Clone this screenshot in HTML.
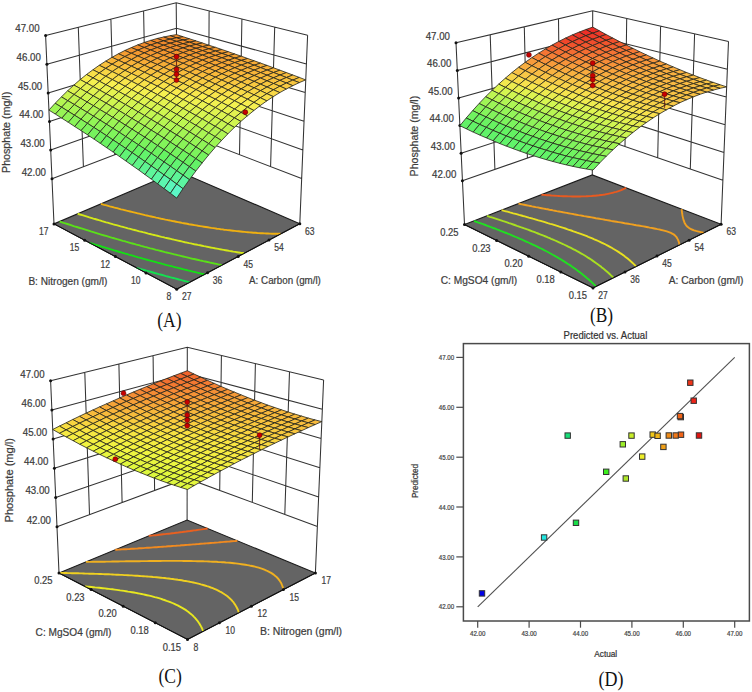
<!DOCTYPE html>
<html><head><meta charset="utf-8"><style>html,body{margin:0;padding:0;background:#fff;}svg{display:block;}</style></head>
<body><svg width="752" height="692" viewBox="0 0 752 692">
<rect width="752" height="692" fill="#fff"/>
<path d="M45.6,35.6 L176.2,2.7 L307.6,35.2 M52,178.8 L177.4,130.7 L301.6,178.6 M50.7,150.1 L177.2,105.1 L302.8,149.9 M49.5,121.5 L176.9,79.5 L304,121.2 M48.2,92.9 L176.7,53.9 L305.2,92.6 M46.9,64.2 L176.5,28.3 L306.4,63.9 M83.4,166.8 L78.3,27.3 M270.6,166.6 L274.7,27.1 M114.7,154.7 L110.9,19.1 M239.5,154.6 L241.9,19 M146.1,142.7 L143.6,10.9 M208.5,142.6 L209.1,10.8 M54,223.9 L45.6,35.6 M177.8,171 L176.2,2.7 M299.8,223.7 L307.6,35.2" fill="none" stroke="#333333" stroke-width="1.05"/>
<polygon points="176.7,289.2 299.8,223.7 177.8,171 54,223.9" fill="#646464" stroke="#1a1a1a" stroke-width="1.1"/>
<polyline points="189.7,282.3 188.1,281.8 186.4,281.4 184.6,281 182.3,280.4 180.7,279.9 179,279.5 177.2,279 175,278.4 173.3,278 171.7,277.6 169.8,277.1 167.6,276.5 166,276.1 164.4,275.6 162.3,275 160.3,274.5 158.7,274.1 157.1,273.6 154.7,273 153,272.5 151.4,272 149.5,271.5 147.4,270.9 145.8,270.5 144.1,270 141.8,269.3 140.1,268.8 138.5,268.4 136.6,267.8 136.6,267.8" fill="none" stroke="#14e050" stroke-width="1.9"/>
<polyline points="204.6,274.4 202.9,274 201.2,273.6 199.3,273.1 197.1,272.6 195.4,272.2 193.8,271.8 192.1,271.4 189.9,270.8 188,270.4 186.3,270 184.7,269.6 182.7,269.1 180.5,268.5 178.9,268.1 177.2,267.7 175.5,267.3 173.1,266.7 171.5,266.2 169.9,265.8 168.1,265.4 165.8,264.8 164.1,264.3 162.5,263.9 160.7,263.4 158.4,262.8 156.8,262.4 155.2,261.9 153.2,261.4 151.1,260.8 149.5,260.4 147.9,260 145.6,259.3 143.8,258.8 142.2,258.4 140.5,257.9 138.2,257.3 136.6,256.8 135,256.4 132.7,255.7 130.9,255.2 129.3,254.8 127.5,254.2 125.3,253.6 123.7,253.1 122.1,252.7 119.7,252 118.1,251.5 116.5,251 114.2,250.4 112.6,249.9 111,249.4 108.8,248.7 107,248.2 105.4,247.7 103.4,247.1 101.4,246.5 99.9,246 97.9,245.4 95.9,244.8 94.3,244.3 92.4,243.7 90.4,243.1 89.6,242.8" fill="none" stroke="#14e014" stroke-width="1.9"/>
<polyline points="222,265.1 220.3,264.7 218.5,264.4 216.3,263.9 214.3,263.5 212.6,263.1 210.9,262.8 209.2,262.4 207.5,262 205.2,261.5 203.3,261.1 201.6,260.7 200,260.4 198.3,260 196.2,259.5 194.1,259 192.4,258.7 190.7,258.3 189.1,257.9 187,257.4 184.9,256.9 183.2,256.5 181.6,256.1 179.9,255.7 177.6,255.2 175.8,254.7 174.1,254.3 172.5,253.9 170.5,253.4 168.3,252.9 166.7,252.5 165,252.1 163.3,251.6 160.9,251 159.3,250.6 157.6,250.2 156,249.8 153.6,249.1 151.9,248.7 150.3,248.3 148.5,247.8 146.2,247.2 144.6,246.8 143,246.3 141,245.8 138.9,245.2 137.3,244.8 135.7,244.4 133.4,243.7 131.6,243.3 130,242.8 128.3,242.3 126,241.7 124.4,241.2 122.8,240.8 120.5,240.1 118.8,239.6 117.2,239.2 115.2,238.6 113.2,238 111.6,237.6 109.9,237.1 107.6,236.4 106,235.9 104.4,235.5 102,234.8 100.4,234.3 98.8,233.8 96.5,233.1 94.9,232.6 93.3,232.1 90.9,231.4 89.4,230.9 87.8,230.4 85.4,229.7 83.8,229.2 82.3,228.7 79.9,228 78.3,227.5 76.8,227 74.4,226.3 72.9,225.8 71.1,225.2 69,224.5 67.4,224 65.3,223.3 63.5,222.8 62,222.3 59.6,221.5 59.6,221.5" fill="none" stroke="#5ae018" stroke-width="1.9"/>
<polyline points="244.1,253.3 242.3,253 240.5,252.8 238.7,252.5 236.9,252.2 235.2,251.9 233.3,251.6 231.3,251.2 229.3,250.9 227.2,250.5 225.5,250.2 223.7,249.9 222,249.6 220.2,249.3 218.5,248.9 216.7,248.6 214.9,248.3 212.8,247.9 210.7,247.5 208.9,247.1 207.2,246.8 205.5,246.4 203.8,246.1 202,245.7 200.1,245.3 197.9,244.9 196,244.5 194.3,244.2 192.6,243.8 190.9,243.4 189.2,243.1 187,242.6 185,242.2 183.3,241.8 181.6,241.4 179.9,241 178,240.6 175.8,240.1 174,239.7 172.4,239.3 170.7,238.9 168.9,238.5 166.6,238 164.8,237.6 163.2,237.2 161.5,236.8 159.6,236.3 157.4,235.8 155.7,235.4 154.1,235 152.4,234.6 150,234 148.3,233.6 146.6,233.1 145,232.7 142.8,232.2 140.9,231.7 139.3,231.3 137.6,230.8 135.4,230.2 133.6,229.8 131.9,229.3 130.3,228.9 127.9,228.3 126.3,227.8 124.6,227.4 122.8,226.9 120.6,226.3 119,225.8 117.4,225.4 115.1,224.8 113.3,224.3 111.7,223.8 109.8,223.3 107.7,222.7 106.1,222.3 104.5,221.8 102.1,221.1 100.6,220.6 99,220.2 96.6,219.5 95,219 93.4,218.6 91.1,217.9 89.4,217.4 87.9,216.9 85.5,216.2 83.9,215.7 82.3,215.2 80,214.5 78.4,214 77.6,213.8" fill="none" stroke="#d4e818" stroke-width="1.9"/>
<polyline points="280.7,233.8 279.3,233.8 277.4,233.8 275.2,233.8 273.7,233.7 272,233.7 269.9,233.6 267.9,233.5 266.5,233.5 264.6,233.4 262.5,233.3 260.5,233.2 259,233.1 257.4,233 255.4,232.8 253.4,232.7 251.4,232.5 249.5,232.4 247.9,232.2 246.3,232.1 244.5,231.9 242.5,231.7 240.6,231.5 238.6,231.3 236.7,231.1 234.8,230.9 233,230.7 231.2,230.5 229.5,230.3 227.7,230.1 226,229.9 224.2,229.7 222.4,229.4 220.6,229.2 218.8,228.9 216.9,228.7 215.1,228.4 213.3,228.1 211.4,227.9 209.6,227.6 207.8,227.3 205.9,227 204,226.7 202,226.4 200.1,226.1 198.2,225.8 196.2,225.4 194.3,225.1 192.5,224.8 190.7,224.5 189,224.2 187.2,223.8 185.4,223.5 183.7,223.2 181.9,222.9 180.2,222.5 178.1,222.1 176,221.7 174.1,221.3 172.4,221 170.6,220.6 168.9,220.3 167.2,219.9 165.4,219.6 163.3,219.1 161.2,218.7 159.5,218.3 157.8,217.9 156.1,217.6 154.4,217.2 152.2,216.7 150.2,216.3 148.5,215.9 146.8,215.5 145.1,215.1 143.2,214.6 141,214.1 139.3,213.7 137.6,213.3 136,212.9 133.8,212.4 131.8,211.9 130.2,211.5 128.5,211.1 126.6,210.7 124.4,210.1 122.8,209.7 121.1,209.3 119.3,208.8 117.1,208.2 115.4,207.8 113.8,207.4 111.8,206.8 109.7,206.3 108.1,205.8 106.5,205.4 104.2,204.8 102.5,204.3 100.9,203.9 100.9,203.9" fill="none" stroke="#f0b010" stroke-width="1.9"/>
<polyline points="54,223.9 176.7,289.2 299.8,223.7" fill="none" stroke="#111" stroke-width="1"/>
<circle cx="52" cy="178.8" r="1.5" fill="#111"/><circle cx="50.7" cy="150.1" r="1.5" fill="#111"/><circle cx="49.5" cy="121.5" r="1.5" fill="#111"/><circle cx="48.2" cy="92.9" r="1.5" fill="#111"/><circle cx="46.9" cy="64.2" r="1.5" fill="#111"/><circle cx="45.6" cy="35.6" r="1.5" fill="#111"/><circle cx="176.7" cy="289.2" r="1.5" fill="#111"/><circle cx="146" cy="272.9" r="1.5" fill="#111"/><circle cx="115.4" cy="256.5" r="1.5" fill="#111"/><circle cx="84.7" cy="240.2" r="1.5" fill="#111"/><circle cx="54" cy="223.9" r="1.5" fill="#111"/><circle cx="207.5" cy="272.8" r="1.5" fill="#111"/><circle cx="238.2" cy="256.4" r="1.5" fill="#111"/><circle cx="269" cy="240.1" r="1.5" fill="#111"/><circle cx="299.8" cy="223.7" r="1.5" fill="#111"/>
<g stroke="#24241a" stroke-width="0.8" stroke-linejoin="round"><polygon points="176.5,37.8 183,36.7 176.5,34.6 170.1,35.7" fill="#f28c2c"/><polygon points="170.1,39.2 176.5,37.8 170.1,35.7 163.6,37" fill="#f1892b"/><polygon points="183,40 189.5,38.8 183,36.7 176.5,37.8" fill="#f28e2c"/><polygon points="163.6,40.9 170.1,39.2 163.6,37 157.1,38.5" fill="#f1872a"/><polygon points="176.5,41.4 183,40 176.5,37.8 170.1,39.2" fill="#f28b2b"/><polygon points="189.5,42.2 196,40.9 189.5,38.8 183,40" fill="#f2902d"/><polygon points="157.1,42.8 163.6,40.9 157.1,38.5 150.6,40.4" fill="#f1872a"/><polygon points="170.1,43.2 176.5,41.4 170.1,39.2 163.6,40.9" fill="#f1892b"/><polygon points="183,43.7 189.5,42.2 183,40 176.5,41.4" fill="#f28d2c"/><polygon points="196,44.4 202.4,43 196,40.9 189.5,42.2" fill="#f3922d"/><polygon points="150.7,45 157.1,42.8 150.6,40.4 144.2,42.5" fill="#f1872a"/><polygon points="163.6,45.2 170.1,43.2 163.6,40.9 157.1,42.8" fill="#f1892b"/><polygon points="176.6,45.5 183,43.7 176.5,41.4 170.1,43.2" fill="#f28b2b"/><polygon points="189.5,46 196,44.4 189.5,42.2 183,43.7" fill="#f28f2c"/><polygon points="202.5,46.6 208.9,45.2 202.4,43 196,44.4" fill="#f3952e"/><polygon points="144.2,47.5 150.7,45 144.2,42.5 137.7,44.9" fill="#f18a2b"/><polygon points="157.2,47.5 163.6,45.2 157.1,42.8 150.7,45" fill="#f18a2b"/><polygon points="170.1,47.6 176.6,45.5 170.1,43.2 163.6,45.2" fill="#f28b2b"/><polygon points="183,47.9 189.5,46 183,43.7 176.6,45.5" fill="#f28e2c"/><polygon points="196,48.3 202.5,46.6 196,44.4 189.5,46" fill="#f3922d"/><polygon points="208.9,48.8 215.4,47.3 208.9,45.2 202.5,46.6" fill="#f3972f"/><polygon points="137.8,50.2 144.2,47.5 137.7,44.9 131.3,47.6" fill="#f28e2c"/><polygon points="150.7,50 157.2,47.5 150.7,45 144.2,47.5" fill="#f28d2c"/><polygon points="163.6,50 170.1,47.6 163.6,45.2 157.2,47.5" fill="#f28d2c"/><polygon points="176.6,50.1 183,47.9 176.6,45.5 170.1,47.6" fill="#f28e2c"/><polygon points="189.5,50.3 196,48.3 189.5,46 183,47.9" fill="#f2912d"/><polygon points="202.5,50.6 208.9,48.8 202.5,46.6 196,48.3" fill="#f3942e"/><polygon points="215.4,51.1 221.9,49.5 215.4,47.3 208.9,48.8" fill="#f49a30"/><polygon points="131.3,53.3 137.8,50.2 131.3,47.6 124.8,50.5" fill="#f3942e"/><polygon points="144.3,52.9 150.7,50 144.2,47.5 137.8,50.2" fill="#f3922d"/><polygon points="157.2,52.7 163.6,50 157.2,47.5 150.7,50" fill="#f2912d"/><polygon points="170.1,52.5 176.6,50.1 170.1,47.6 163.6,50" fill="#f2902d"/><polygon points="183.1,52.6 189.5,50.3 183,47.9 176.6,50.1" fill="#f3922d"/><polygon points="196,52.7 202.5,50.6 196,48.3 189.5,50.3" fill="#f3942e"/><polygon points="208.9,53 215.4,51.1 208.9,48.8 202.5,50.6" fill="#f4972f"/><polygon points="221.9,53.4 228.3,51.7 221.9,49.5 215.4,51.1" fill="#f49c31"/><polygon points="124.9,56.6 131.3,53.3 124.8,50.5 118.4,53.8" fill="#f59d31"/><polygon points="137.8,56 144.3,52.9 137.8,50.2 131.3,53.3" fill="#f49930"/><polygon points="150.7,55.6 157.2,52.7 150.7,50 144.3,52.9" fill="#f3962f"/><polygon points="163.7,55.3 170.1,52.5 163.6,50 157.2,52.7" fill="#f3952e"/><polygon points="176.6,55.1 183.1,52.6 176.6,50.1 170.1,52.5" fill="#f3942e"/><polygon points="189.5,55.1 196,52.7 189.5,50.3 183.1,52.6" fill="#f3952e"/><polygon points="202.5,55.1 208.9,53 202.5,50.6 196,52.7" fill="#f4972f"/><polygon points="215.4,55.4 221.9,53.4 215.4,51.1 208.9,53" fill="#f49a30"/><polygon points="228.3,55.7 234.8,54 228.3,51.7 221.9,53.4" fill="#f59f32"/><polygon points="118.5,60.3 124.9,56.6 118.4,53.8 112,57.3" fill="#f6a835"/><polygon points="131.4,59.5 137.8,56 131.3,53.3 124.9,56.6" fill="#f5a233"/><polygon points="144.3,58.8 150.7,55.6 144.3,52.9 137.8,56" fill="#f59e31"/><polygon points="157.2,58.3 163.7,55.3 157.2,52.7 150.7,55.6" fill="#f49b30"/><polygon points="170.1,57.9 176.6,55.1 170.1,52.5 163.7,55.3" fill="#f49930"/><polygon points="183.1,57.7 189.5,55.1 183.1,52.6 176.6,55.1" fill="#f4982f"/><polygon points="196,57.6 202.5,55.1 196,52.7 189.5,55.1" fill="#f49930"/><polygon points="208.9,57.6 215.4,55.4 208.9,53 202.5,55.1" fill="#f49b30"/><polygon points="221.9,57.8 228.3,55.7 221.9,53.4 215.4,55.4" fill="#f59e31"/><polygon points="234.8,58.1 241.3,56.2 234.8,54 228.3,55.7" fill="#f5a233"/><polygon points="112.1,64.2 118.5,60.3 112,57.3 105.6,61.2" fill="#f8b439"/><polygon points="125,63.2 131.4,59.5 124.9,56.6 118.5,60.3" fill="#f7ad36"/><polygon points="137.9,62.4 144.3,58.8 137.8,56 131.4,59.5" fill="#f6a734"/><polygon points="150.8,61.7 157.2,58.3 150.7,55.6 144.3,58.8" fill="#f5a333"/><polygon points="163.7,61.1 170.1,57.9 163.7,55.3 157.2,58.3" fill="#f59f32"/><polygon points="176.6,60.6 183.1,57.7 176.6,55.1 170.1,57.9" fill="#f59d31"/><polygon points="189.5,60.3 196,57.6 189.5,55.1 183.1,57.7" fill="#f49c31"/><polygon points="202.5,60.1 208.9,57.6 202.5,55.1 196,57.6" fill="#f49d31"/><polygon points="215.4,60.1 221.9,57.8 215.4,55.4 208.9,57.6" fill="#f59e31"/><polygon points="228.3,60.2 234.8,58.1 228.3,55.7 221.9,57.8" fill="#f5a132"/><polygon points="241.3,60.4 247.7,58.5 241.3,56.2 234.8,58.1" fill="#f6a534"/><polygon points="105.7,68.4 112.1,64.2 105.6,61.2 99.2,65.3" fill="#f8c13d"/><polygon points="118.6,67.3 125,63.2 118.5,60.3 112.1,64.2" fill="#f8b93b"/><polygon points="131.4,66.2 137.9,62.4 131.4,59.5 125,63.2" fill="#f8b238"/><polygon points="144.3,65.3 150.8,61.7 144.3,58.8 137.9,62.4" fill="#f7ac36"/><polygon points="157.3,64.5 163.7,61.1 157.2,58.3 150.8,61.7" fill="#f6a835"/><polygon points="170.2,63.8 176.6,60.6 170.1,57.9 163.7,61.1" fill="#f6a433"/><polygon points="183.1,63.3 189.5,60.3 183.1,57.7 176.6,60.6" fill="#f5a233"/><polygon points="196,63 202.5,60.1 196,57.6 189.5,60.3" fill="#f5a032"/><polygon points="208.9,62.7 215.4,60.1 208.9,57.6 202.5,60.1" fill="#f5a032"/><polygon points="221.9,62.6 228.3,60.2 221.9,57.8 215.4,60.1" fill="#f5a233"/><polygon points="234.8,62.6 241.3,60.4 234.8,58.1 228.3,60.2" fill="#f6a433"/><polygon points="247.7,62.8 254.2,60.8 247.7,58.5 241.3,60.4" fill="#f6a835"/><polygon points="99.3,73 105.7,68.4 99.2,65.3 92.9,69.8" fill="#f8d043"/><polygon points="112.2,71.6 118.6,67.3 112.1,64.2 105.7,68.4" fill="#f8c73f"/><polygon points="125,70.4 131.4,66.2 125,63.2 118.6,67.3" fill="#f8bf3c"/><polygon points="137.9,69.2 144.3,65.3 137.9,62.4 131.4,66.2" fill="#f8b83a"/><polygon points="150.8,68.2 157.3,64.5 150.8,61.7 144.3,65.3" fill="#f8b238"/><polygon points="163.7,67.4 170.2,63.8 163.7,61.1 157.3,64.5" fill="#f7ad36"/><polygon points="176.6,66.6 183.1,63.3 176.6,60.6 170.2,63.8" fill="#f6a935"/><polygon points="189.6,66.1 196,63 189.5,60.3 183.1,63.3" fill="#f6a634"/><polygon points="202.5,65.6 208.9,62.7 202.5,60.1 196,63" fill="#f6a534"/><polygon points="215.4,65.3 221.9,62.6 215.4,60.1 208.9,62.7" fill="#f6a433"/><polygon points="228.3,65.1 234.8,62.6 228.3,60.2 221.9,62.6" fill="#f6a534"/><polygon points="241.3,65.1 247.7,62.8 241.3,60.4 234.8,62.6" fill="#f6a835"/><polygon points="254.2,65.2 260.6,63.1 254.2,60.8 247.7,62.8" fill="#f7ab36"/><polygon points="93,77.9 99.3,73 92.9,69.8 86.5,74.5" fill="#f8df49"/><polygon points="105.8,76.3 112.2,71.6 105.7,68.4 99.3,73" fill="#f8d645"/><polygon points="118.7,74.8 125,70.4 118.6,67.3 112.2,71.6" fill="#f8cd41"/><polygon points="131.5,73.5 137.9,69.2 131.4,66.2 125,70.4" fill="#f8c43e"/><polygon points="144.4,72.3 150.8,68.2 144.3,65.3 137.9,69.2" fill="#f8bd3c"/><polygon points="157.3,71.2 163.7,67.4 157.3,64.5 150.8,68.2" fill="#f8b73a"/><polygon points="170.2,70.3 176.6,66.6 170.2,63.8 163.7,67.4" fill="#f8b238"/><polygon points="183.1,69.5 189.6,66.1 183.1,63.3 176.6,66.6" fill="#f7ae37"/><polygon points="196,68.8 202.5,65.6 196,63 189.6,66.1" fill="#f7ab36"/><polygon points="208.9,68.3 215.4,65.3 208.9,62.7 202.5,65.6" fill="#f6a935"/><polygon points="221.9,67.9 228.3,65.1 221.9,62.6 215.4,65.3" fill="#f6a835"/><polygon points="234.8,67.7 241.3,65.1 234.8,62.6 228.3,65.1" fill="#f7a935"/><polygon points="247.7,67.6 254.2,65.2 247.7,62.8 241.3,65.1" fill="#f7ab36"/><polygon points="260.6,67.6 267.1,65.4 260.6,63.1 254.2,65.2" fill="#f7ae37"/><polygon points="86.7,83.1 93,77.9 86.5,74.5 80.2,79.6" fill="#f8ee4f"/><polygon points="99.5,81.3 105.8,76.3 99.3,73 93,77.9" fill="#f8e44b"/><polygon points="112.3,79.6 118.7,74.8 112.2,71.6 105.8,76.3" fill="#f8db47"/><polygon points="125.1,78 131.5,73.5 125,70.4 118.7,74.8" fill="#f8d344"/><polygon points="138,76.6 144.4,72.3 137.9,69.2 131.5,73.5" fill="#f8ca40"/><polygon points="150.9,75.3 157.3,71.2 150.8,68.2 144.4,72.3" fill="#f8c23e"/><polygon points="163.8,74.2 170.2,70.3 163.7,67.4 157.3,71.2" fill="#f8bc3c"/><polygon points="176.7,73.2 183.1,69.5 176.6,66.6 170.2,70.3" fill="#f8b73a"/><polygon points="189.6,72.3 196,68.8 189.6,66.1 183.1,69.5" fill="#f8b338"/><polygon points="202.5,71.6 208.9,68.3 202.5,65.6 196,68.8" fill="#f8af37"/><polygon points="215.4,71 221.9,67.9 215.4,65.3 208.9,68.3" fill="#f7ad36"/><polygon points="228.3,70.6 234.8,67.7 228.3,65.1 221.9,67.9" fill="#f7ad36"/><polygon points="241.2,70.3 247.7,67.6 241.3,65.1 234.8,67.7" fill="#f7ad36"/><polygon points="254.2,70.1 260.6,67.6 254.2,65.2 247.7,67.6" fill="#f7af37"/><polygon points="267.1,70.1 273.5,67.8 267.1,65.4 260.6,67.6" fill="#f8b238"/><polygon points="80.4,88.6 86.7,83.1 80.2,79.6 73.9,85.1" fill="#ebf250"/><polygon points="93.1,86.6 99.5,81.3 93,77.9 86.7,83.1" fill="#f4f050"/><polygon points="105.9,84.7 112.3,79.6 105.8,76.3 99.5,81.3" fill="#f8ea4d"/><polygon points="118.7,82.9 125.1,78 118.7,74.8 112.3,79.6" fill="#f8e049"/><polygon points="131.6,81.3 138,76.6 131.5,73.5 125.1,78" fill="#f8d846"/><polygon points="144.4,79.8 150.9,75.3 144.4,72.3 138,76.6" fill="#f8d043"/><polygon points="157.3,78.4 163.8,74.2 157.3,71.2 150.9,75.3" fill="#f8c840"/><polygon points="170.2,77.2 176.7,73.2 170.2,70.3 163.8,74.2" fill="#f8c13d"/><polygon points="183.1,76.1 189.6,72.3 183.1,69.5 176.7,73.2" fill="#f8bc3b"/><polygon points="196,75.2 202.5,71.6 196,68.8 189.6,72.3" fill="#f8b73a"/><polygon points="208.9,74.4 215.4,71 208.9,68.3 202.5,71.6" fill="#f8b439"/><polygon points="221.9,73.8 228.3,70.6 221.9,67.9 215.4,71" fill="#f8b238"/><polygon points="234.8,73.2 241.2,70.3 234.8,67.7 228.3,70.6" fill="#f8b138"/><polygon points="247.7,72.9 254.2,70.1 247.7,67.6 241.2,70.3" fill="#f8b138"/><polygon points="260.6,72.6 267.1,70.1 260.6,67.6 254.2,70.1" fill="#f8b338"/><polygon points="273.5,72.5 280,70.2 273.5,67.8 267.1,70.1" fill="#f8b539"/><polygon points="74.1,94.5 80.4,88.6 73.9,85.1 67.6,90.8" fill="#dbf350"/><polygon points="86.8,92.2 93.1,86.6 86.7,83.1 80.4,88.6" fill="#e5f250"/><polygon points="99.6,90.1 105.9,84.7 99.5,81.3 93.1,86.6" fill="#eff150"/><polygon points="112.4,88.1 118.7,82.9 112.3,79.6 105.9,84.7" fill="#f8ef50"/><polygon points="125.2,86.3 131.6,81.3 125.1,78 118.7,82.9" fill="#f8e64c"/><polygon points="138,84.6 144.4,79.8 138,76.6 131.6,81.3" fill="#f8dd48"/><polygon points="150.9,83 157.3,78.4 150.9,75.3 144.4,79.8" fill="#f8d645"/><polygon points="163.8,81.6 170.2,77.2 163.8,74.2 157.3,78.4" fill="#f8ce42"/><polygon points="176.7,80.3 183.1,76.1 176.7,73.2 170.2,77.2" fill="#f8c73f"/><polygon points="189.6,79.1 196,75.2 189.6,72.3 183.1,76.1" fill="#f8c13d"/><polygon points="202.5,78.1 208.9,74.4 202.5,71.6 196,75.2" fill="#f8bc3c"/><polygon points="215.4,77.2 221.9,73.8 215.4,71 208.9,74.4" fill="#f8b93a"/><polygon points="228.3,76.5 234.8,73.2 228.3,70.6 221.9,73.8" fill="#f8b63a"/><polygon points="241.2,75.9 247.7,72.9 241.2,70.3 234.8,73.2" fill="#f8b539"/><polygon points="254.1,75.5 260.6,72.6 254.2,70.1 247.7,72.9" fill="#f8b539"/><polygon points="267.1,75.2 273.5,72.5 267.1,70.1 260.6,72.6" fill="#f8b63a"/><polygon points="280,75 286.4,72.6 280,70.2 273.5,72.5" fill="#f8b93a"/><polygon points="67.8,100.7 74.1,94.5 67.6,90.8 61.4,96.9" fill="#c9f550"/><polygon points="80.5,98.2 86.8,92.2 80.4,88.6 74.1,94.5" fill="#d5f450"/><polygon points="93.3,95.9 99.6,90.1 93.1,86.6 86.8,92.2" fill="#e0f350"/><polygon points="106.1,93.7 112.4,88.1 105.9,84.7 99.6,90.1" fill="#eaf250"/><polygon points="118.8,91.6 125.2,86.3 118.7,82.9 112.4,88.1" fill="#f4f050"/><polygon points="131.7,89.7 138,84.6 131.6,81.3 125.2,86.3" fill="#f8eb4e"/><polygon points="144.5,87.9 150.9,83 144.4,79.8 138,84.6" fill="#f8e24a"/><polygon points="157.4,86.2 163.8,81.6 157.3,78.4 150.9,83" fill="#f8da47"/><polygon points="170.2,84.7 176.7,80.3 170.2,77.2 163.8,81.6" fill="#f8d344"/><polygon points="183.1,83.4 189.6,79.1 183.1,76.1 176.7,80.3" fill="#f8cc41"/><polygon points="196,82.1 202.5,78.1 196,75.2 189.6,79.1" fill="#f8c63f"/><polygon points="208.9,81 215.4,77.2 208.9,74.4 202.5,78.1" fill="#f8c13d"/><polygon points="221.8,80.1 228.3,76.5 221.9,73.8 215.4,77.2" fill="#f8be3c"/><polygon points="234.8,79.3 241.2,75.9 234.8,73.2 228.3,76.5" fill="#f8bb3b"/><polygon points="247.7,78.7 254.1,75.5 247.7,72.9 241.2,75.9" fill="#f8ba3b"/><polygon points="260.6,78.1 267.1,75.2 260.6,72.6 254.1,75.5" fill="#f8b93b"/><polygon points="273.5,77.8 280,75 273.5,72.5 267.1,75.2" fill="#f8ba3b"/><polygon points="286.4,77.5 292.9,75 286.4,72.6 280,75" fill="#f8bc3c"/><polygon points="61.6,107.2 67.8,100.7 61.4,96.9 55.1,103.3" fill="#b4f552"/><polygon points="74.3,104.5 80.5,98.2 74.1,94.5 67.8,100.7" fill="#c3f551"/><polygon points="87,102 93.3,95.9 86.8,92.2 80.5,98.2" fill="#d0f550"/><polygon points="99.7,99.5 106.1,93.7 99.6,90.1 93.3,95.9" fill="#dbf350"/><polygon points="112.5,97.2 118.8,91.6 112.4,88.1 106.1,93.7" fill="#e5f250"/><polygon points="125.3,95.1 131.7,89.7 125.2,86.3 118.8,91.6" fill="#eff150"/><polygon points="138.1,93.1 144.5,87.9 138,84.6 131.7,89.7" fill="#f8f050"/><polygon points="151,91.2 157.4,86.2 150.9,83 144.5,87.9" fill="#f8e84c"/><polygon points="163.8,89.5 170.2,84.7 163.8,81.6 157.4,86.2" fill="#f8e049"/><polygon points="176.7,87.9 183.1,83.4 176.7,80.3 170.2,84.7" fill="#f8d846"/><polygon points="189.6,86.5 196,82.1 189.6,79.1 183.1,83.4" fill="#f8d243"/><polygon points="202.5,85.2 208.9,81 202.5,78.1 196,82.1" fill="#f8cc41"/><polygon points="215.4,84 221.8,80.1 215.4,77.2 208.9,81" fill="#f8c63f"/><polygon points="228.3,83 234.8,79.3 228.3,76.5 221.8,80.1" fill="#f8c23e"/><polygon points="241.2,82.1 247.7,78.7 241.2,75.9 234.8,79.3" fill="#f8c03d"/><polygon points="254.1,81.4 260.6,78.1 254.1,75.5 247.7,78.7" fill="#f8be3c"/><polygon points="267,80.8 273.5,77.8 267.1,75.2 260.6,78.1" fill="#f8bd3c"/><polygon points="279.9,80.4 286.4,77.5 280,75 273.5,77.8" fill="#f8be3c"/><polygon points="292.8,80.1 299.3,77.4 292.9,75 286.4,77.5" fill="#f8c03d"/><polygon points="55.4,114.1 61.6,107.2 55.1,103.3 48.9,110.1" fill="#9ef554"/><polygon points="68,111.2 74.3,104.5 67.8,100.7 61.6,107.2" fill="#adf553"/><polygon points="80.7,108.4 87,102 80.5,98.2 74.3,104.5" fill="#bcf552"/><polygon points="93.4,105.7 99.7,99.5 93.3,95.9 87,102" fill="#caf550"/><polygon points="106.2,103.2 112.5,97.2 106.1,93.7 99.7,99.5" fill="#d5f450"/><polygon points="119,100.9 125.3,95.1 118.8,91.6 112.5,97.2" fill="#e0f350"/><polygon points="131.7,98.6 138.1,93.1 131.7,89.7 125.3,95.1" fill="#eaf250"/><polygon points="144.6,96.5 151,91.2 144.5,87.9 138.1,93.1" fill="#f3f150"/><polygon points="157.4,94.6 163.8,89.5 157.4,86.2 151,91.2" fill="#f8ed4f"/><polygon points="170.3,92.8 176.7,87.9 170.2,84.7 163.8,89.5" fill="#f8e54b"/><polygon points="183.1,91.1 189.6,86.5 183.1,83.4 176.7,87.9" fill="#f8dd48"/><polygon points="196,89.6 202.5,85.2 196,82.1 189.6,86.5" fill="#f8d745"/><polygon points="208.9,88.2 215.4,84 208.9,81 202.5,85.2" fill="#f8d143"/><polygon points="221.8,87 228.3,83 221.8,80.1 215.4,84" fill="#f8cc41"/><polygon points="234.7,85.9 241.2,82.1 234.8,79.3 228.3,83" fill="#f8c740"/><polygon points="247.6,85 254.1,81.4 247.7,78.7 241.2,82.1" fill="#f8c43e"/><polygon points="260.5,84.2 267,80.8 260.6,78.1 254.1,81.4" fill="#f8c23e"/><polygon points="273.5,83.5 279.9,80.4 273.5,77.8 267,80.8" fill="#f8c23e"/><polygon points="286.4,83 292.8,80.1 286.4,77.5 279.9,80.4" fill="#f8c23e"/><polygon points="299.3,82.6 305.7,79.9 299.3,77.4 292.8,80.1" fill="#f8c33e"/><polygon points="61.8,118.2 68,111.2 61.6,107.2 55.4,114.1" fill="#97f555"/><polygon points="74.5,115.2 80.7,108.4 74.3,104.5 68,111.2" fill="#a7f553"/><polygon points="87.2,112.3 93.4,105.7 87,102 80.7,108.4" fill="#b6f552"/><polygon points="99.9,109.6 106.2,103.2 99.7,99.5 93.4,105.7" fill="#c3f551"/><polygon points="112.6,107 119,100.9 112.5,97.2 106.2,103.2" fill="#d0f550"/><polygon points="125.4,104.5 131.7,98.6 125.3,95.1 119,100.9" fill="#dbf350"/><polygon points="138.2,102.2 144.6,96.5 138.1,93.1 131.7,98.6" fill="#e5f250"/><polygon points="151,100 157.4,94.6 151,91.2 144.6,96.5" fill="#eef150"/><polygon points="163.8,98 170.3,92.8 163.8,89.5 157.4,94.6" fill="#f6f050"/><polygon points="176.7,96.1 183.1,91.1 176.7,87.9 170.3,92.8" fill="#f8ea4d"/><polygon points="189.6,94.4 196,89.6 189.6,86.5 183.1,91.1" fill="#f8e24a"/><polygon points="202.4,92.8 208.9,88.2 202.5,85.2 196,89.6" fill="#f8dc47"/><polygon points="215.3,91.3 221.8,87 215.4,84 208.9,88.2" fill="#f8d645"/><polygon points="228.2,90 234.7,85.9 228.3,83 221.8,87" fill="#f8d143"/><polygon points="241.2,88.9 247.6,85 241.2,82.1 234.7,85.9" fill="#f8cd41"/><polygon points="254.1,87.8 260.5,84.2 254.1,81.4 247.6,85" fill="#f8c940"/><polygon points="267,87 273.5,83.5 267,80.8 260.5,84.2" fill="#f8c73f"/><polygon points="279.9,86.2 286.4,83 279.9,80.4 273.5,83.5" fill="#f8c63f"/><polygon points="292.8,85.7 299.3,82.6 292.8,80.1 286.4,83" fill="#f8c63f"/><polygon points="68.3,122.3 74.5,115.2 68,111.2 61.8,118.2" fill="#90f556"/><polygon points="80.9,119.2 87.2,112.3 80.7,108.4 74.5,115.2" fill="#a0f554"/><polygon points="93.6,116.2 99.9,109.6 93.4,105.7 87.2,112.3" fill="#aff553"/><polygon points="106.3,113.4 112.6,107 106.2,103.2 99.9,109.6" fill="#bdf551"/><polygon points="119.1,110.7 125.4,104.5 119,100.9 112.6,107" fill="#caf550"/><polygon points="131.8,108.2 138.2,102.2 131.7,98.6 125.4,104.5" fill="#d5f450"/><polygon points="144.6,105.8 151,100 144.6,96.5 138.2,102.2" fill="#dff350"/><polygon points="157.4,103.5 163.8,98 157.4,94.6 151,100" fill="#e9f250"/><polygon points="170.3,101.4 176.7,96.1 170.3,92.8 163.8,98" fill="#f1f150"/><polygon points="183.1,99.5 189.6,94.4 183.1,91.1 176.7,96.1" fill="#f8ef50"/><polygon points="196,97.6 202.4,92.8 196,89.6 189.6,94.4" fill="#f8e74c"/><polygon points="208.9,96 215.3,91.3 208.9,88.2 202.4,92.8" fill="#f8e149"/><polygon points="221.8,94.4 228.2,90 221.8,87 215.3,91.3" fill="#f8db47"/><polygon points="234.7,93.1 241.2,88.9 234.7,85.9 228.2,90" fill="#f8d645"/><polygon points="247.6,91.8 254.1,87.8 247.6,85 241.2,88.9" fill="#f8d243"/><polygon points="260.5,90.7 267,87 260.5,84.2 254.1,87.8" fill="#f8ce42"/><polygon points="273.4,89.8 279.9,86.2 273.5,83.5 267,87" fill="#f8cc41"/><polygon points="286.3,89 292.8,85.7 286.4,83 279.9,86.2" fill="#f8ca41"/><polygon points="74.7,126.5 80.9,119.2 74.5,115.2 68.3,122.3" fill="#8af458"/><polygon points="87.4,123.3 93.6,116.2 87.2,112.3 80.9,119.2" fill="#99f555"/><polygon points="100,120.2 106.3,113.4 99.9,109.6 93.6,116.2" fill="#a8f553"/><polygon points="112.8,117.3 119.1,110.7 112.6,107 106.3,113.4" fill="#b6f552"/><polygon points="125.5,114.5 131.8,108.2 125.4,104.5 119.1,110.7" fill="#c4f551"/><polygon points="138.3,111.9 144.6,105.8 138.2,102.2 131.8,108.2" fill="#d0f550"/><polygon points="151.1,109.4 157.4,103.5 151,100 144.6,105.8" fill="#daf350"/><polygon points="163.9,107.1 170.3,101.4 163.8,98 157.4,103.5" fill="#e4f250"/><polygon points="176.7,104.9 183.1,99.5 176.7,96.1 170.3,101.4" fill="#ecf150"/><polygon points="189.6,102.8 196,97.6 189.6,94.4 183.1,99.5" fill="#f4f050"/><polygon points="202.4,100.9 208.9,96 202.4,92.8 196,97.6" fill="#f8ed4f"/><polygon points="215.3,99.2 221.8,94.4 215.3,91.3 208.9,96" fill="#f8e64c"/><polygon points="228.2,97.6 234.7,93.1 228.2,90 221.8,94.4" fill="#f8e049"/><polygon points="241.1,96.1 247.6,91.8 241.2,88.9 234.7,93.1" fill="#f8db47"/><polygon points="254,94.8 260.5,90.7 254.1,87.8 247.6,91.8" fill="#f8d645"/><polygon points="266.9,93.7 273.4,89.8 267,87 260.5,90.7" fill="#f8d344"/><polygon points="279.8,92.6 286.3,89 279.9,86.2 273.4,89.8" fill="#f8d043"/><polygon points="81.1,130.6 87.4,123.3 80.9,119.2 74.7,126.5" fill="#83f45a"/><polygon points="93.8,127.4 100,120.2 93.6,116.2 87.4,123.3" fill="#92f556"/><polygon points="106.5,124.2 112.8,117.3 106.3,113.4 100,120.2" fill="#a1f554"/><polygon points="119.2,121.2 125.5,114.5 119.1,110.7 112.8,117.3" fill="#b0f553"/><polygon points="131.9,118.4 138.3,111.9 131.8,108.2 125.5,114.5" fill="#bdf551"/><polygon points="144.7,115.6 151.1,109.4 144.6,105.8 138.3,111.9" fill="#caf550"/><polygon points="157.5,113.1 163.9,107.1 157.4,103.5 151.1,109.4" fill="#d5f450"/><polygon points="170.3,110.7 176.7,104.9 170.3,101.4 163.9,107.1" fill="#def350"/><polygon points="183.1,108.4 189.6,102.8 183.1,99.5 176.7,104.9" fill="#e7f250"/><polygon points="196,106.3 202.4,100.9 196,97.6 189.6,102.8" fill="#eff150"/><polygon points="208.9,104.3 215.3,99.2 208.9,96 202.4,100.9" fill="#f6f050"/><polygon points="221.7,102.5 228.2,97.6 221.8,94.4 215.3,99.2" fill="#f8eb4e"/><polygon points="234.6,100.8 241.1,96.1 234.7,93.1 228.2,97.6" fill="#f8e54b"/><polygon points="247.5,99.2 254,94.8 247.6,91.8 241.1,96.1" fill="#f8df49"/><polygon points="260.4,97.8 266.9,93.7 260.5,90.7 254,94.8" fill="#f8db47"/><polygon points="273.3,96.6 279.8,92.6 273.4,89.8 266.9,93.7" fill="#f8d846"/><polygon points="87.6,134.9 93.8,127.4 87.4,123.3 81.1,130.6" fill="#7df35c"/><polygon points="100.2,131.5 106.5,124.2 100,120.2 93.8,127.4" fill="#8cf458"/><polygon points="112.9,128.3 119.2,121.2 112.8,117.3 106.5,124.2" fill="#9bf555"/><polygon points="125.6,125.2 131.9,118.4 125.5,114.5 119.2,121.2" fill="#a9f553"/><polygon points="138.3,122.2 144.7,115.6 138.3,111.9 131.9,118.4" fill="#b7f552"/><polygon points="151.1,119.4 157.5,113.1 151.1,109.4 144.7,115.6" fill="#c4f551"/><polygon points="163.9,116.8 170.3,110.7 163.9,107.1 157.5,113.1" fill="#cff550"/><polygon points="176.7,114.3 183.1,108.4 176.7,104.9 170.3,110.7" fill="#d9f450"/><polygon points="189.5,111.9 196,106.3 189.6,102.8 183.1,108.4" fill="#e2f350"/><polygon points="202.4,109.7 208.9,104.3 202.4,100.9 196,106.3" fill="#eaf250"/><polygon points="215.3,107.6 221.7,102.5 215.3,99.2 208.9,104.3" fill="#f2f150"/><polygon points="228.1,105.7 234.6,100.8 228.2,97.6 221.7,102.5" fill="#f8f050"/><polygon points="241,104 247.5,99.2 241.1,96.1 234.6,100.8" fill="#f8e94d"/><polygon points="253.9,102.4 260.4,97.8 254,94.8 247.5,99.2" fill="#f8e44b"/><polygon points="266.8,100.9 273.3,96.6 266.9,93.7 260.4,97.8" fill="#f8df49"/><polygon points="94,139.1 100.2,131.5 93.8,127.4 87.6,134.9" fill="#76f35d"/><polygon points="106.6,135.7 112.9,128.3 106.5,124.2 100.2,131.5" fill="#85f459"/><polygon points="119.3,132.3 125.6,125.2 119.2,121.2 112.9,128.3" fill="#94f556"/><polygon points="132,129.2 138.3,122.2 131.9,118.4 125.6,125.2" fill="#a2f554"/><polygon points="144.8,126.1 151.1,119.4 144.7,115.6 138.3,122.2" fill="#b0f553"/><polygon points="157.5,123.2 163.9,116.8 157.5,113.1 151.1,119.4" fill="#bdf551"/><polygon points="170.3,120.5 176.7,114.3 170.3,110.7 163.9,116.8" fill="#caf550"/><polygon points="183.1,117.9 189.5,111.9 183.1,108.4 176.7,114.3" fill="#d4f450"/><polygon points="196,115.5 202.4,109.7 196,106.3 189.5,111.9" fill="#ddf350"/><polygon points="208.8,113.2 215.3,107.6 208.9,104.3 202.4,109.7" fill="#e5f250"/><polygon points="221.7,111 228.1,105.7 221.7,102.5 215.3,107.6" fill="#edf150"/><polygon points="234.6,109.1 241,104 234.6,100.8 228.1,105.7" fill="#f3f150"/><polygon points="247.5,107.2 253.9,102.4 247.5,99.2 241,104" fill="#f8ef4f"/><polygon points="260.3,105.5 266.8,100.9 260.4,97.8 253.9,102.4" fill="#f8e94d"/><polygon points="100.4,143.4 106.6,135.7 100.2,131.5 94,139.1" fill="#6ff35f"/><polygon points="113,139.9 119.3,132.3 112.9,128.3 106.6,135.7" fill="#7ff45b"/><polygon points="125.7,136.5 132,129.2 125.6,125.2 119.3,132.3" fill="#8df457"/><polygon points="138.4,133.2 144.8,126.1 138.3,122.2 132,129.2" fill="#9cf554"/><polygon points="151.2,130.1 157.5,123.2 151.1,119.4 144.8,126.1" fill="#aaf553"/><polygon points="163.9,127.1 170.3,120.5 163.9,116.8 157.5,123.2" fill="#b7f552"/><polygon points="176.7,124.3 183.1,117.9 176.7,114.3 170.3,120.5" fill="#c3f551"/><polygon points="189.5,121.6 196,115.5 189.5,111.9 183.1,117.9" fill="#cff550"/><polygon points="202.4,119.1 208.8,113.2 202.4,109.7 196,115.5" fill="#d8f450"/><polygon points="215.2,116.7 221.7,111 215.3,107.6 208.8,113.2" fill="#e0f350"/><polygon points="228.1,114.5 234.6,109.1 228.1,105.7 221.7,111" fill="#e8f250"/><polygon points="241,112.4 247.5,107.2 241,104 234.6,109.1" fill="#eff150"/><polygon points="253.9,110.5 260.3,105.5 253.9,102.4 247.5,107.2" fill="#f5f050"/><polygon points="106.8,147.8 113,139.9 106.6,135.7 100.4,143.4" fill="#69f261"/><polygon points="119.4,144.1 125.7,136.5 119.3,132.3 113,139.9" fill="#78f35d"/><polygon points="132.1,140.6 138.4,133.2 132,129.2 125.7,136.5" fill="#87f459"/><polygon points="144.8,137.2 151.2,130.1 144.8,126.1 138.4,133.2" fill="#95f555"/><polygon points="157.6,134 163.9,127.1 157.5,123.2 151.2,130.1" fill="#a3f554"/><polygon points="170.3,131 176.7,124.3 170.3,120.5 163.9,127.1" fill="#b1f553"/><polygon points="183.1,128.1 189.5,121.6 183.1,117.9 176.7,124.3" fill="#bdf551"/><polygon points="195.9,125.3 202.4,119.1 196,115.5 189.5,121.6" fill="#c9f550"/><polygon points="208.8,122.7 215.2,116.7 208.8,113.2 202.4,119.1" fill="#d3f450"/><polygon points="221.6,120.2 228.1,114.5 221.7,111 215.2,116.7" fill="#dbf350"/><polygon points="234.5,117.9 241,112.4 234.6,109.1 228.1,114.5" fill="#e3f250"/><polygon points="247.4,115.8 253.9,110.5 247.5,107.2 241,112.4" fill="#eaf250"/><polygon points="113.2,152.1 119.4,144.1 113,139.9 106.8,147.8" fill="#64f265"/><polygon points="125.8,148.4 132.1,140.6 125.7,136.5 119.4,144.1" fill="#71f35f"/><polygon points="138.5,144.8 144.8,137.2 138.4,133.2 132.1,140.6" fill="#80f45b"/><polygon points="151.2,141.3 157.6,134 151.2,130.1 144.8,137.2" fill="#8ef557"/><polygon points="164,138 170.3,131 163.9,127.1 157.6,134" fill="#9cf554"/><polygon points="176.7,134.9 183.1,128.1 176.7,124.3 170.3,131" fill="#aaf553"/><polygon points="189.5,131.9 195.9,125.3 189.5,121.6 183.1,128.1" fill="#b7f552"/><polygon points="202.3,129 208.8,122.7 202.4,119.1 195.9,125.3" fill="#c2f551"/><polygon points="215.2,126.4 221.6,120.2 215.2,116.7 208.8,122.7" fill="#cdf550"/><polygon points="228,123.8 234.5,117.9 228.1,114.5 221.6,120.2" fill="#d6f450"/><polygon points="240.9,121.4 247.4,115.8 241,112.4 234.5,117.9" fill="#def350"/><polygon points="119.6,156.6 125.8,148.4 119.4,144.1 113.2,152.1" fill="#63f36e"/><polygon points="132.2,152.7 138.5,144.8 132.1,140.6 125.8,148.4" fill="#6bf260"/><polygon points="144.9,149 151.2,141.3 144.8,137.2 138.5,144.8" fill="#7af35c"/><polygon points="157.6,145.5 164,138 157.6,134 151.2,141.3" fill="#88f459"/><polygon points="170.3,142.1 176.7,134.9 170.3,131 164,138" fill="#95f555"/><polygon points="183.1,138.8 189.5,131.9 183.1,128.1 176.7,134.9" fill="#a3f554"/><polygon points="195.9,135.8 202.3,129 195.9,125.3 189.5,131.9" fill="#b0f553"/><polygon points="208.7,132.8 215.2,126.4 208.8,122.7 202.3,129" fill="#bcf552"/><polygon points="221.6,130 228,123.8 221.6,120.2 215.2,126.4" fill="#c7f551"/><polygon points="234.4,127.4 240.9,121.4 234.5,117.9 228,123.8" fill="#d1f550"/><polygon points="125.9,161 132.2,152.7 125.8,148.4 119.6,156.6" fill="#61f376"/><polygon points="138.6,157.1 144.9,149 138.5,144.8 132.2,152.7" fill="#64f262"/><polygon points="151.3,153.3 157.6,145.5 151.2,141.3 144.9,149" fill="#73f35e"/><polygon points="164,149.7 170.3,142.1 164,138 157.6,145.5" fill="#82f45a"/><polygon points="176.7,146.2 183.1,138.8 176.7,134.9 170.3,142.1" fill="#8ff557"/><polygon points="189.5,142.8 195.9,135.8 189.5,131.9 183.1,138.8" fill="#9cf554"/><polygon points="202.3,139.7 208.7,132.8 202.3,129 195.9,135.8" fill="#aaf553"/><polygon points="215.1,136.6 221.6,130 215.2,126.4 208.7,132.8" fill="#b6f552"/><polygon points="227.9,133.8 234.4,127.4 228,123.8 221.6,130" fill="#c1f551"/><polygon points="132.3,165.5 138.6,157.1 132.2,152.7 125.9,161" fill="#60f37f"/><polygon points="145,161.5 151.3,153.3 144.9,149 138.6,157.1" fill="#63f26b"/><polygon points="157.6,157.6 164,149.7 157.6,145.5 151.3,153.3" fill="#6cf260"/><polygon points="170.4,153.9 176.7,146.2 170.3,142.1 164,149.7" fill="#7bf35c"/><polygon points="183.1,150.3 189.5,142.8 183.1,138.8 176.7,146.2" fill="#89f458"/><polygon points="195.9,146.9 202.3,139.7 195.9,135.8 189.5,142.8" fill="#96f555"/><polygon points="208.7,143.6 215.1,136.6 208.7,132.8 202.3,139.7" fill="#a3f554"/><polygon points="221.5,140.5 227.9,133.8 221.6,130 215.1,136.6" fill="#aff553"/><polygon points="138.7,170 145,161.5 138.6,157.1 132.3,165.5" fill="#5ff488"/><polygon points="151.3,165.9 157.6,157.6 151.3,153.3 145,161.5" fill="#62f374"/><polygon points="164,161.9 170.4,153.9 164,149.7 157.6,157.6" fill="#65f262"/><polygon points="176.7,158.1 183.1,150.3 176.7,146.2 170.4,153.9" fill="#74f35e"/><polygon points="189.5,154.4 195.9,146.9 189.5,142.8 183.1,150.3" fill="#82f45a"/><polygon points="202.2,150.9 208.7,143.6 202.3,139.7 195.9,146.9" fill="#8ff557"/><polygon points="215,147.6 221.5,140.5 215.1,136.6 208.7,143.6" fill="#9cf554"/><polygon points="145,174.6 151.3,165.9 145,161.5 138.7,170" fill="#5ef491"/><polygon points="157.7,170.4 164,161.9 157.6,157.6 151.3,165.9" fill="#61f37c"/><polygon points="170.4,166.3 176.7,158.1 170.4,153.9 164,161.9" fill="#63f269"/><polygon points="183.1,162.4 189.5,154.4 183.1,150.3 176.7,158.1" fill="#6ef360"/><polygon points="195.8,158.6 202.2,150.9 195.9,146.9 189.5,154.4" fill="#7cf35c"/><polygon points="208.6,155 215,147.6 208.7,143.6 202.2,150.9" fill="#89f458"/><polygon points="151.4,179.2 157.7,170.4 151.3,165.9 145,174.6" fill="#5df59a"/><polygon points="164,174.9 170.4,166.3 164,161.9 157.7,170.4" fill="#5ff485"/><polygon points="176.7,170.7 183.1,162.4 176.7,158.1 170.4,166.3" fill="#62f371"/><polygon points="189.4,166.7 195.8,158.6 189.5,154.4 183.1,162.4" fill="#67f261"/><polygon points="202.2,162.9 208.6,155 202.2,150.9 195.8,158.6" fill="#75f35e"/><polygon points="157.7,183.9 164,174.9 157.7,170.4 151.4,179.2" fill="#5cf5a4"/><polygon points="170.4,179.4 176.7,170.7 170.4,166.3 164,174.9" fill="#5ef48e"/><polygon points="183.1,175.2 189.4,166.7 183.1,162.4 176.7,170.7" fill="#61f37a"/><polygon points="195.8,171.1 202.2,162.9 195.8,158.6 189.4,166.7" fill="#63f267"/><polygon points="164.1,188.6 170.4,179.4 164,174.9 157.7,183.9" fill="#5bf6af"/><polygon points="176.7,184 183.1,175.2 176.7,170.7 170.4,179.4" fill="#5df597"/><polygon points="189.4,179.7 195.8,171.1 189.4,166.7 183.1,175.2" fill="#60f483"/><polygon points="170.4,193.3 176.7,184 170.4,179.4 164.1,188.6" fill="#5bf6ba"/><polygon points="183,188.7 189.4,179.7 183.1,175.2 176.7,184" fill="#5cf5a1"/><polygon points="176.7,198.1 183,188.7 176.7,184 170.4,193.3" fill="#5bf7c6"/></g>
<line x1="176.5" y1="56.7" x2="176.5" y2="80.1" stroke="#5a1010" stroke-width="0.8"/>
<circle cx="176.5" cy="56.7" r="2.45" fill="#c80000" stroke="#600000" stroke-width="0.6"/>
<circle cx="176.5" cy="69.5" r="2.45" fill="#c80000" stroke="#600000" stroke-width="0.6"/>
<circle cx="176.5" cy="74.3" r="2.45" fill="#c80000" stroke="#600000" stroke-width="0.6"/>
<circle cx="176.5" cy="80.1" r="2.45" fill="#c80000" stroke="#600000" stroke-width="0.6"/>
<circle cx="245.3" cy="112.2" r="2.45" fill="#c80000" stroke="#600000" stroke-width="0.6"/>
<text x="21.7" y="175.6" font-family="'Liberation Sans', sans-serif" font-size="10.5" fill="#3c3c3c" stroke="#3c3c3c" stroke-width="0.22" textLength="24.3" lengthAdjust="spacingAndGlyphs">42.00</text>
<text x="20.4" y="146.9" font-family="'Liberation Sans', sans-serif" font-size="10.5" fill="#3c3c3c" stroke="#3c3c3c" stroke-width="0.22" textLength="24.3" lengthAdjust="spacingAndGlyphs">43.00</text>
<text x="19.2" y="118.3" font-family="'Liberation Sans', sans-serif" font-size="10.5" fill="#3c3c3c" stroke="#3c3c3c" stroke-width="0.22" textLength="24.3" lengthAdjust="spacingAndGlyphs">44.00</text>
<text x="17.9" y="89.7" font-family="'Liberation Sans', sans-serif" font-size="10.5" fill="#3c3c3c" stroke="#3c3c3c" stroke-width="0.22" textLength="24.3" lengthAdjust="spacingAndGlyphs">45.00</text>
<text x="16.6" y="61" font-family="'Liberation Sans', sans-serif" font-size="10.5" fill="#3c3c3c" stroke="#3c3c3c" stroke-width="0.22" textLength="24.3" lengthAdjust="spacingAndGlyphs">46.00</text>
<text x="15.3" y="32.4" font-family="'Liberation Sans', sans-serif" font-size="10.5" fill="#3c3c3c" stroke="#3c3c3c" stroke-width="0.22" textLength="24.3" lengthAdjust="spacingAndGlyphs">47.00</text>
<text x="39.1" y="235" font-family="'Liberation Sans', sans-serif" font-size="10.5" fill="#3c3c3c" stroke="#3c3c3c" stroke-width="0.22" textLength="9.5" lengthAdjust="spacingAndGlyphs">17</text>
<text x="69.8" y="251.3" font-family="'Liberation Sans', sans-serif" font-size="10.5" fill="#3c3c3c" stroke="#3c3c3c" stroke-width="0.22" textLength="9.5" lengthAdjust="spacingAndGlyphs">15</text>
<text x="100.5" y="267.6" font-family="'Liberation Sans', sans-serif" font-size="10.5" fill="#3c3c3c" stroke="#3c3c3c" stroke-width="0.22" textLength="9.5" lengthAdjust="spacingAndGlyphs">12</text>
<text x="131.1" y="284" font-family="'Liberation Sans', sans-serif" font-size="10.5" fill="#3c3c3c" stroke="#3c3c3c" stroke-width="0.22" textLength="9.5" lengthAdjust="spacingAndGlyphs">10</text>
<text x="166.5" y="300.3" font-family="'Liberation Sans', sans-serif" font-size="10.5" fill="#3c3c3c" stroke="#3c3c3c" stroke-width="0.22" textLength="4.8" lengthAdjust="spacingAndGlyphs">8</text>
<text x="182" y="300.3" font-family="'Liberation Sans', sans-serif" font-size="10.5" fill="#3c3c3c" stroke="#3c3c3c" stroke-width="0.22" textLength="9.5" lengthAdjust="spacingAndGlyphs">27</text>
<text x="212.8" y="283.9" font-family="'Liberation Sans', sans-serif" font-size="10.5" fill="#3c3c3c" stroke="#3c3c3c" stroke-width="0.22" textLength="9.5" lengthAdjust="spacingAndGlyphs">36</text>
<text x="243.5" y="267.5" font-family="'Liberation Sans', sans-serif" font-size="10.5" fill="#3c3c3c" stroke="#3c3c3c" stroke-width="0.22" textLength="9.5" lengthAdjust="spacingAndGlyphs">45</text>
<text x="274.3" y="251.2" font-family="'Liberation Sans', sans-serif" font-size="10.5" fill="#3c3c3c" stroke="#3c3c3c" stroke-width="0.22" textLength="9.5" lengthAdjust="spacingAndGlyphs">54</text>
<text x="305.1" y="234.8" font-family="'Liberation Sans', sans-serif" font-size="10.5" fill="#3c3c3c" stroke="#3c3c3c" stroke-width="0.22" textLength="9.5" lengthAdjust="spacingAndGlyphs">63</text>
<text x="28.4" y="284.8" font-family="'Liberation Sans', sans-serif" font-size="10.4" fill="#3c3c3c" stroke="#3c3c3c" stroke-width="0.22" textLength="79" lengthAdjust="spacingAndGlyphs">B: Nitrogen (gm/l)</text>
<text x="249.1" y="284.4" font-family="'Liberation Sans', sans-serif" font-size="10.4" fill="#3c3c3c" stroke="#3c3c3c" stroke-width="0.22" textLength="71.8" lengthAdjust="spacingAndGlyphs">A: Carbon (gm/l)</text>
<text x="9.7" y="172.9" font-family="'Liberation Sans', sans-serif" font-size="10.4" fill="#3c3c3c" stroke="#3c3c3c" stroke-width="0.22" textLength="81.1" lengthAdjust="spacingAndGlyphs" transform="rotate(-90 9.7 172.9)">Phosphate (mg/l)</text>
<text x="157.2" y="326.7" font-family="'Liberation Serif', serif" font-size="21" fill="#111" textLength="24.3" lengthAdjust="spacingAndGlyphs">(A)</text>
<path d="M456,42.8 L592.7,10.7 L728.5,41.4 M462.4,180.8 L592.4,135.3 L722.9,180.2 M461.1,153.2 L592.5,110.4 L724,152.5 M459.9,125.6 L592.5,85.5 L725.2,124.7 M458.6,98 L592.6,60.6 L726.3,97 M457.3,70.4 L592.6,35.6 L727.4,69.2 M494.9,169.5 L490.2,34.7 M690.3,169 L694.6,33.8 M527.4,158.1 L524.3,26.7 M657.7,157.8 L660.6,26.1 M559.9,146.7 L558.5,18.7 M625,146.6 L626.7,18.4 M464.5,224.6 L456,42.8 M592.3,174.9 L592.7,10.7 M721.1,224.3 L728.5,41.4" fill="none" stroke="#333333" stroke-width="1.05"/>
<polygon points="593,287.9 721.1,224.3 592.3,174.9 464.5,224.6" fill="#646464" stroke="#1a1a1a" stroke-width="1.1"/>
<polyline points="596,286.4 595.2,285.6 594.3,284.7 593.2,283.6 592.1,282.6 591.3,281.8 590.3,281 589,279.8 588.1,279 587.1,278.2 585.7,277 584.8,276.2 583.5,275.2 582.4,274.3 581.4,273.5 579.9,272.3 578.9,271.6 577.4,270.5 576.4,269.7 574.9,268.6 573.8,267.9 572.2,266.8 571.2,266 569.6,264.9 568.4,264.2 566.9,263.2 565.2,262.1 564.1,261.4 562.4,260.4 560.7,259.3 559.6,258.7 557.9,257.6 556.1,256.6 554.4,255.6 553.2,255 551.4,254 549.6,253 547.8,252 545.9,251 544.1,250.1 542.8,249.4 541,248.5 539.1,247.6 537.2,246.6 535.2,245.7 533.3,244.8 531.3,243.9 529.4,243 527.4,242 526.1,241.5 524.1,240.6 522.1,239.7 520,238.8 518,237.9 515.9,237 514.2,236.3 512.5,235.6 510.4,234.7 508.3,233.9 506.2,233 504.8,232.5 502.7,231.6 500.5,230.8 499.1,230.2 496.9,229.4 494.8,228.5 493.3,228 491.1,227.2 488.9,226.3 487.5,225.8 485.3,225 483.2,224.2 481.6,223.6 479.3,222.8 477.8,222.3 475.6,221.5 474.1,220.9 474.1,220.9" fill="none" stroke="#20e020" stroke-width="1.9"/>
<polyline points="613.5,277.7 612.3,276.6 611.4,275.7 610.5,274.9 609.6,274 608.3,272.8 607.4,272 606.5,271.2 605.3,270.2 604.2,269.3 603.3,268.5 601.8,267.4 600.9,266.6 599.7,265.7 598.4,264.7 597.4,264 595.9,262.9 594.9,262.2 593.3,261.1 592.3,260.4 590.7,259.3 589.3,258.4 588,257.6 586.3,256.5 585.2,255.8 583.5,254.8 581.8,253.8 580.5,253.1 578.9,252.2 577.1,251.2 575.4,250.2 573.5,249.3 572.3,248.7 570.5,247.7 568.6,246.8 566.8,245.9 564.9,245 562.9,244 561,243.2 559.1,242.3 557.1,241.4 555.1,240.5 553.1,239.6 551.1,238.8 549.7,238.2 547.7,237.4 545.6,236.5 543.6,235.7 541.5,234.8 540.1,234.3 538,233.5 535.9,232.7 534,231.9 532.3,231.3 530.1,230.5 528,229.7 526.5,229.2 524.3,228.4 522.8,227.8 520.6,227.1 518.4,226.3 516.9,225.8 514.7,225 513.2,224.5 510.9,223.7 509,223.1 507.1,222.4 504.9,221.7 503.3,221.2 501,220.4 499.5,219.9 497.1,219.1 495.6,218.6 493.4,217.9 491.7,217.4 489.8,216.8 487.8,216.1 487,215.9" fill="none" stroke="#a8e020" stroke-width="1.9"/>
<polyline points="636.1,266.5 635.3,265.7 634.4,264.7 633.3,263.6 632.4,262.8 631.6,262 630.7,261.2 629.4,260.1 628.5,259.3 627.6,258.5 626.2,257.4 625.2,256.7 624.1,255.8 622.8,254.9 621.8,254.1 620.2,253.1 619.2,252.4 617.6,251.4 616.2,250.5 614.9,249.7 613.2,248.7 612.1,248 610.4,247.1 608.6,246.1 606.8,245.2 605.6,244.5 603.8,243.7 602,242.8 600.1,241.9 598.2,241 596.2,240.1 594.3,239.3 592.3,238.4 590.3,237.6 588.3,236.8 586.9,236.2 584.8,235.4 582.8,234.6 580.7,233.8 579.2,233.3 577.1,232.6 575,231.8 573.4,231.3 571.3,230.5 569.1,229.8 567.6,229.3 565.4,228.5 563.5,227.9 561.7,227.3 559.4,226.6 557.9,226.1 555.6,225.4 554,224.9 551.7,224.2 550.2,223.8 547.8,223.1 546.3,222.6 544.1,221.9 542.3,221.4 540.6,220.9 538.4,220.3 536.8,219.8 534.4,219.1 532.8,218.7 530.8,218.1 528.8,217.6 527.1,217.1 524.7,216.4 523.1,216 521.4,215.5 519,214.9 517.4,214.4 515.6,213.9 513.2,213.3 511.6,212.8 509.8,212.4 507.5,211.7 505.8,211.3 504.1,210.9 501.6,210.2 501.6,210.2" fill="none" stroke="#e8e020" stroke-width="1.9"/>
<polyline points="679.5,244.9 679.3,243.9 679.1,243 678.9,242.3 678.6,241.3 678.2,240.3 677.9,239.6 677.5,238.9 677,238 676.5,237.1 675.8,236.3 675,235.5 673.7,234.4 672.6,233.8 670.9,232.9 668.9,232.1 666.8,231.4 665,230.9 663,230.3 661.4,230 659,229.4 657.3,229.1 655.6,228.7 653.1,228.2 651.3,227.9 649.6,227.6 647.9,227.2 645.6,226.8 643.5,226.4 641.7,226.1 639.9,225.8 638.2,225.5 636.2,225.2 633.9,224.8 631.9,224.4 630.1,224.1 628.3,223.8 626.5,223.5 624.7,223.2 622.6,222.8 620.4,222.4 618.4,222.1 616.6,221.8 614.8,221.5 613,221.2 611.2,220.9 609.3,220.5 607,220.1 604.9,219.8 603.1,219.4 601.2,219.1 599.4,218.8 597.6,218.5 595.8,218.2 593.8,217.8 591.6,217.4 589.4,217 587.6,216.7 585.8,216.4 584,216.1 582.2,215.7 580.4,215.4 578.5,215.1 576.3,214.7 574.1,214.3 572.2,213.9 570.3,213.6 568.5,213.3 566.7,212.9 564.9,212.6 563.1,212.3 561.1,211.9 558.9,211.5 556.7,211.1 554.9,210.7 553,210.4 551.2,210 549.4,209.7 547.6,209.3 545.8,209 543.7,208.6 541.5,208.2 539.4,207.8 537.6,207.4 535.7,207.1 533.9,206.7 532.1,206.4 530.3,206 528.4,205.6 526.3,205.2 524.1,204.8 522.1,204.4 520.2,204 518.4,203.6 518.4,203.6" fill="none" stroke="#f0a020" stroke-width="1.9"/>
<polyline points="681.6,209.1 681.7,209.8 681.8,210.8 681.9,211.4 682,212.4 682.1,213.1 682.3,213.9 682.4,214.9 682.5,215.5 682.7,216.5 682.9,217.3 683.1,218 683.3,219 683.5,219.7 683.7,220.5 684.1,221.4 684.4,222.3 684.7,223 685.1,223.8 685.6,224.6 686.2,225.5 686.9,226.3 687.8,227 689.1,228 690.2,228.7 692,229.5 694,230.3 696,230.9 697.6,231.3 700,231.9 701.6,232.3 703.2,232.6 704,232.8" fill="none" stroke="#f0a020" stroke-width="1.9"/>
<polyline points="626.1,187.8 624.4,188.7 622.5,189.5 620.6,190.3 618.5,191.1 616.3,191.8 614.8,192.2 612.5,192.8 610.9,193.2 609.1,193.6 606.7,194.1 604.8,194.5 602.9,194.8 601,195 599,195.3 597,195.5 595.3,195.7 593.6,195.8 591.7,196 589.5,196.1 587.6,196.2 586.1,196.3 583.7,196.4 581.9,196.4 580.1,196.5 577.9,196.5 576.3,196.5 574,196.5 572.5,196.5 570.2,196.4 568.5,196.4 566.6,196.3 564.4,196.2 563,196.2 560.6,196.1 558.8,196 557.1,195.9 554.8,195.7 553,195.6 551.4,195.5 549.2,195.3 547,195.2 545.5,195 543.6,194.9 541.4,194.7 541.4,194.7" fill="none" stroke="#e85a20" stroke-width="1.9"/>
<polyline points="464.5,224.6 593,287.9 721.1,224.3" fill="none" stroke="#111" stroke-width="1"/>
<circle cx="462.4" cy="180.8" r="1.5" fill="#111"/><circle cx="461.1" cy="153.2" r="1.5" fill="#111"/><circle cx="459.9" cy="125.6" r="1.5" fill="#111"/><circle cx="458.6" cy="98" r="1.5" fill="#111"/><circle cx="457.3" cy="70.4" r="1.5" fill="#111"/><circle cx="456" cy="42.8" r="1.5" fill="#111"/><circle cx="593" cy="287.9" r="1.5" fill="#111"/><circle cx="560.8" cy="272.1" r="1.5" fill="#111"/><circle cx="528.7" cy="256.3" r="1.5" fill="#111"/><circle cx="496.6" cy="240.5" r="1.5" fill="#111"/><circle cx="464.5" cy="224.6" r="1.5" fill="#111"/><circle cx="625" cy="272" r="1.5" fill="#111"/><circle cx="657" cy="256.1" r="1.5" fill="#111"/><circle cx="689.1" cy="240.2" r="1.5" fill="#111"/><circle cx="721.1" cy="224.3" r="1.5" fill="#111"/>
<g stroke="#24241a" stroke-width="0.8" stroke-linejoin="round"><polygon points="592.6,33.2 599.4,30.8 592.7,27.1 585.9,29.5" fill="#ec2c26"/><polygon points="585.8,35.7 592.6,33.2 585.9,29.5 579.1,32.1" fill="#ed2f27"/><polygon points="599.4,36.8 606.1,34.5 599.4,30.8 592.6,33.2" fill="#ee3728"/><polygon points="579.1,38.6 585.8,35.7 579.1,32.1 572.3,34.9" fill="#ee3528"/><polygon points="592.6,39.3 599.4,36.8 592.6,33.2 585.8,35.7" fill="#ee3b28"/><polygon points="606.1,40.3 612.9,38.1 606.1,34.5 599.4,36.8" fill="#f0422a"/><polygon points="572.3,41.7 579.1,38.6 572.3,34.9 565.5,38.1" fill="#ef3d29"/><polygon points="585.8,42.1 592.6,39.3 585.8,35.7 579.1,38.6" fill="#ef4029"/><polygon points="599.3,42.8 606.1,40.3 599.4,36.8 592.6,39.3" fill="#f0472b"/><polygon points="612.8,43.8 619.6,41.6 612.9,38.1 606.1,40.3" fill="#f1502c"/><polygon points="565.5,45 572.3,41.7 565.5,38.1 558.8,41.4" fill="#f0462a"/><polygon points="579.1,45.2 585.8,42.1 579.1,38.6 572.3,41.7" fill="#f0482b"/><polygon points="592.6,45.6 599.3,42.8 592.6,39.3 585.8,42.1" fill="#f14d2c"/><polygon points="606.1,46.3 612.8,43.8 606.1,40.3 599.3,42.8" fill="#f1552d"/><polygon points="619.6,47.2 626.3,45 619.6,41.6 612.8,43.8" fill="#f25e2f"/><polygon points="558.8,48.6 565.5,45 558.8,41.4 552,45.1" fill="#f1542d"/><polygon points="572.3,48.5 579.1,45.2 572.3,41.7 565.5,45" fill="#f1542d"/><polygon points="585.8,48.6 592.6,45.6 585.8,42.1 579.1,45.2" fill="#f1562e"/><polygon points="599.3,49 606.1,46.3 599.3,42.8 592.6,45.6" fill="#f25b2f"/><polygon points="612.8,49.6 619.6,47.2 612.8,43.8 606.1,46.3" fill="#f26230"/><polygon points="626.3,50.5 633,48.4 626.3,45 619.6,47.2" fill="#f36b32"/><polygon points="552.1,52.5 558.8,48.6 552,45.1 545.3,49" fill="#f26330"/><polygon points="565.6,52.1 572.3,48.5 565.5,45 558.8,48.6" fill="#f26130"/><polygon points="579.1,51.9 585.8,48.6 579.1,45.2 572.3,48.5" fill="#f26030"/><polygon points="592.6,52 599.3,49 592.6,45.6 585.8,48.6" fill="#f26330"/><polygon points="606,52.3 612.8,49.6 606.1,46.3 599.3,49" fill="#f36731"/><polygon points="619.5,52.9 626.3,50.5 619.6,47.2 612.8,49.6" fill="#f36e33"/><polygon points="633,53.8 639.7,51.7 633,48.4 626.3,50.5" fill="#f57834"/><polygon points="545.3,56.6 552.1,52.5 545.3,49 538.6,53.2" fill="#f47534"/><polygon points="558.8,55.9 565.6,52.1 558.8,48.6 552.1,52.5" fill="#f47033"/><polygon points="572.3,55.5 579.1,51.9 572.3,48.5 565.6,52.1" fill="#f36d32"/><polygon points="585.8,55.2 592.6,52 585.8,48.6 579.1,51.9" fill="#f36d32"/><polygon points="599.3,55.3 606,52.3 599.3,49 592.6,52" fill="#f36f33"/><polygon points="612.8,55.6 619.5,52.9 612.8,49.6 606,52.3" fill="#f47334"/><polygon points="626.2,56.1 633,53.8 626.3,50.5 619.5,52.9" fill="#f57a35"/><polygon points="639.7,57 646.4,54.9 639.7,51.7 633,53.8" fill="#f68337"/><polygon points="538.6,61.1 545.3,56.6 538.6,53.2 531.9,57.6" fill="#f68838"/><polygon points="552.1,60 558.8,55.9 552.1,52.5 545.3,56.6" fill="#f68036"/><polygon points="565.6,59.3 572.3,55.5 565.6,52.1 558.8,55.9" fill="#f57b35"/><polygon points="579.1,58.8 585.8,55.2 579.1,51.9 572.3,55.5" fill="#f57835"/><polygon points="592.5,58.5 599.3,55.3 592.6,52 585.8,55.2" fill="#f57835"/><polygon points="606,58.5 612.8,55.6 606,52.3 599.3,55.3" fill="#f57a35"/><polygon points="619.5,58.8 626.2,56.1 619.5,52.9 612.8,55.6" fill="#f57e36"/><polygon points="633,59.3 639.7,57 633,53.8 626.2,56.1" fill="#f68537"/><polygon points="646.4,60 653.1,58 646.4,54.9 639.7,57" fill="#f78d39"/><polygon points="531.9,65.8 538.6,61.1 531.9,57.6 525.2,62.3" fill="#f79b3b"/><polygon points="545.4,64.4 552.1,60 545.3,56.6 538.6,61.1" fill="#f7923a"/><polygon points="558.9,63.4 565.6,59.3 558.8,55.9 552.1,60" fill="#f68b38"/><polygon points="572.3,62.5 579.1,58.8 572.3,55.5 565.6,59.3" fill="#f68637"/><polygon points="585.8,62 592.5,58.5 585.8,55.2 579.1,58.8" fill="#f68337"/><polygon points="599.3,61.7 606,58.5 599.3,55.3 592.5,58.5" fill="#f68337"/><polygon points="612.8,61.6 619.5,58.8 612.8,55.6 606,58.5" fill="#f68437"/><polygon points="626.2,61.9 633,59.3 626.2,56.1 619.5,58.8" fill="#f68838"/><polygon points="639.7,62.3 646.4,60 639.7,57 633,59.3" fill="#f78e39"/><polygon points="653.1,63.1 659.8,61.1 653.1,58 646.4,60" fill="#f7963b"/><polygon points="525.3,70.7 531.9,65.8 525.2,62.3 518.5,67.3" fill="#f8ae40"/><polygon points="538.7,69.1 545.4,64.4 538.6,61.1 531.9,65.8" fill="#f8a43d"/><polygon points="552.1,67.7 558.9,63.4 552.1,60 545.4,64.4" fill="#f79b3b"/><polygon points="565.6,66.6 572.3,62.5 565.6,59.3 558.9,63.4" fill="#f7943a"/><polygon points="579.1,65.7 585.8,62 579.1,58.8 572.3,62.5" fill="#f78f39"/><polygon points="592.5,65.1 599.3,61.7 592.5,58.5 585.8,62" fill="#f68c39"/><polygon points="606,64.8 612.8,61.6 606,58.5 599.3,61.7" fill="#f68c38"/><polygon points="619.5,64.7 626.2,61.9 619.5,58.8 612.8,61.6" fill="#f78d39"/><polygon points="632.9,64.9 639.7,62.3 633,59.3 626.2,61.9" fill="#f7913a"/><polygon points="646.4,65.3 653.1,63.1 646.4,60 639.7,62.3" fill="#f7973b"/><polygon points="659.8,66 666.5,64 659.8,61.1 653.1,63.1" fill="#f79f3c"/><polygon points="518.6,76 525.3,70.7 518.5,67.3 511.9,72.6" fill="#f8c145"/><polygon points="532,74.1 538.7,69.1 531.9,65.8 525.3,70.7" fill="#f8b642"/><polygon points="545.5,72.4 552.1,67.7 545.4,64.4 538.7,69.1" fill="#f8ac3f"/><polygon points="558.9,70.9 565.6,66.6 558.9,63.4 552.1,67.7" fill="#f8a43d"/><polygon points="572.4,69.8 579.1,65.7 572.3,62.5 565.6,66.6" fill="#f79d3c"/><polygon points="585.8,68.8 592.5,65.1 585.8,62 579.1,65.7" fill="#f7983b"/><polygon points="599.3,68.2 606,64.8 599.3,61.7 592.5,65.1" fill="#f7953a"/><polygon points="612.7,67.8 619.5,64.7 612.8,61.6 606,64.8" fill="#f7943a"/><polygon points="626.2,67.7 632.9,64.9 626.2,61.9 619.5,64.7" fill="#f7953a"/><polygon points="639.6,67.8 646.4,65.3 639.7,62.3 632.9,64.9" fill="#f7993b"/><polygon points="653.1,68.2 659.8,66 653.1,63.1 646.4,65.3" fill="#f79f3c"/><polygon points="666.5,68.8 673.2,66.9 666.5,64 659.8,66" fill="#f8a73e"/><polygon points="512,81.6 518.6,76 511.9,72.6 505.3,78.2" fill="#f8d54a"/><polygon points="525.4,79.3 532,74.1 525.3,70.7 518.6,76" fill="#f8c847"/><polygon points="538.8,77.3 545.5,72.4 538.7,69.1 532,74.1" fill="#f8bd44"/><polygon points="552.2,75.6 558.9,70.9 552.1,67.7 545.5,72.4" fill="#f8b341"/><polygon points="565.6,74.1 572.4,69.8 565.6,66.6 558.9,70.9" fill="#f8ab3f"/><polygon points="579.1,72.8 585.8,68.8 579.1,65.7 572.4,69.8" fill="#f8a43d"/><polygon points="592.5,71.9 599.3,68.2 592.5,65.1 585.8,68.8" fill="#f89f3c"/><polygon points="606,71.2 612.7,67.8 606,64.8 599.3,68.2" fill="#f79c3c"/><polygon points="619.5,70.7 626.2,67.7 619.5,64.7 612.7,67.8" fill="#f79c3c"/><polygon points="632.9,70.5 639.6,67.8 632.9,64.9 626.2,67.7" fill="#f79d3c"/><polygon points="646.4,70.6 653.1,68.2 646.4,65.3 639.6,67.8" fill="#f8a13d"/><polygon points="659.8,71 666.5,68.8 659.8,66 653.1,68.2" fill="#f8a63e"/><polygon points="673.2,71.6 679.9,69.7 673.2,66.9 666.5,68.8" fill="#f8ad3f"/><polygon points="505.4,87.4 512,81.6 505.3,78.2 498.7,84.1" fill="#f2e84e"/><polygon points="518.8,84.8 525.4,79.3 518.6,76 512,81.6" fill="#f8dc4c"/><polygon points="532.1,82.5 538.8,77.3 532,74.1 525.4,79.3" fill="#f8cf48"/><polygon points="545.5,80.5 552.2,75.6 545.5,72.4 538.8,77.3" fill="#f8c345"/><polygon points="558.9,78.6 565.6,74.1 558.9,70.9 552.2,75.6" fill="#f8b943"/><polygon points="572.4,77.1 579.1,72.8 572.4,69.8 565.6,74.1" fill="#f8b140"/><polygon points="585.8,75.8 592.5,71.9 585.8,68.8 579.1,72.8" fill="#f8ab3f"/><polygon points="599.3,74.8 606,71.2 599.3,68.2 592.5,71.9" fill="#f8a73e"/><polygon points="612.7,74.1 619.5,70.7 612.7,67.8 606,71.2" fill="#f8a43d"/><polygon points="626.2,73.6 632.9,70.5 626.2,67.7 619.5,70.7" fill="#f8a33d"/><polygon points="639.6,73.3 646.4,70.6 639.6,67.8 632.9,70.5" fill="#f8a43d"/><polygon points="653.1,73.4 659.8,71 653.1,68.2 646.4,70.6" fill="#f8a73e"/><polygon points="666.5,73.7 673.2,71.6 666.5,68.8 659.8,71" fill="#f8ac3f"/><polygon points="679.9,74.3 686.6,72.5 679.9,69.7 673.2,71.6" fill="#f8b241"/><polygon points="498.9,93.6 505.4,87.4 498.7,84.1 492.1,90.3" fill="#dcf550"/><polygon points="512.2,90.7 518.8,84.8 512,81.6 505.4,87.4" fill="#eceb4f"/><polygon points="525.5,88 532.1,82.5 525.4,79.3 518.8,84.8" fill="#f8e24d"/><polygon points="538.9,85.6 545.5,80.5 538.8,77.3 532.1,82.5" fill="#f8d44a"/><polygon points="552.3,83.5 558.9,78.6 552.2,75.6 545.5,80.5" fill="#f8c947"/><polygon points="565.7,81.7 572.4,77.1 565.6,74.1 558.9,78.6" fill="#f8bf44"/><polygon points="579.1,80.1 585.8,75.8 579.1,72.8 572.4,77.1" fill="#f8b742"/><polygon points="592.6,78.7 599.3,74.8 592.5,71.9 585.8,75.8" fill="#f8b140"/><polygon points="606,77.7 612.7,74.1 606,71.2 599.3,74.8" fill="#f8ac3f"/><polygon points="619.4,76.9 626.2,73.6 619.5,70.7 612.7,74.1" fill="#f8aa3e"/><polygon points="632.9,76.3 639.6,73.3 632.9,70.5 626.2,73.6" fill="#f8a93e"/><polygon points="646.3,76.1 653.1,73.4 646.4,70.6 639.6,73.3" fill="#f8aa3e"/><polygon points="659.8,76 666.5,73.7 659.8,71 653.1,73.4" fill="#f8ad3f"/><polygon points="673.2,76.3 679.9,74.3 673.2,71.6 666.5,73.7" fill="#f8b140"/><polygon points="686.6,76.8 693.3,75.1 686.6,72.5 679.9,74.3" fill="#f8b742"/><polygon points="492.3,100 498.9,93.6 492.1,90.3 485.6,96.7" fill="#bef553"/><polygon points="505.6,96.8 512.2,90.7 505.4,87.4 498.9,93.6" fill="#d5f551"/><polygon points="518.9,93.8 525.5,88 518.8,84.8 512.2,90.7" fill="#e7ef4f"/><polygon points="532.2,91.1 538.9,85.6 532.1,82.5 525.5,88" fill="#f5e64e"/><polygon points="545.6,88.7 552.3,83.5 545.5,80.5 538.9,85.6" fill="#f8da4b"/><polygon points="559,86.5 565.7,81.7 558.9,78.6 552.3,83.5" fill="#f8ce48"/><polygon points="572.4,84.6 579.1,80.1 572.4,77.1 565.7,81.7" fill="#f8c446"/><polygon points="585.8,82.9 592.6,78.7 585.8,75.8 579.1,80.1" fill="#f8bc43"/><polygon points="599.3,81.5 606,77.7 599.3,74.8 592.6,78.7" fill="#f8b642"/><polygon points="612.7,80.4 619.4,76.9 612.7,74.1 606,77.7" fill="#f8b140"/><polygon points="626.2,79.6 632.9,76.3 626.2,73.6 619.4,76.9" fill="#f8ae40"/><polygon points="639.6,79 646.3,76.1 639.6,73.3 632.9,76.3" fill="#f8ae3f"/><polygon points="653,78.7 659.8,76 653.1,73.4 646.3,76.1" fill="#f8ae40"/><polygon points="666.5,78.6 673.2,76.3 666.5,73.7 659.8,76" fill="#f8b140"/><polygon points="679.9,78.8 686.6,76.8 679.9,74.3 673.2,76.3" fill="#f8b642"/><polygon points="693.3,79.3 699.9,77.6 693.3,75.1 686.6,76.8" fill="#f8bc43"/><polygon points="485.8,106.8 492.3,100 485.6,96.7 479.1,103.5" fill="#a0f556"/><polygon points="499.1,103.2 505.6,96.8 498.9,93.6 492.3,100" fill="#b8f553"/><polygon points="512.3,99.9 518.9,93.8 512.2,90.7 505.6,96.8" fill="#cff551"/><polygon points="525.6,96.9 532.2,91.1 525.5,88 518.9,93.8" fill="#e2f150"/><polygon points="539,94.1 545.6,88.7 538.9,85.6 532.2,91.1" fill="#f0e94f"/><polygon points="552.3,91.6 559,86.5 552.3,83.5 545.6,88.7" fill="#f8df4d"/><polygon points="565.7,89.4 572.4,84.6 565.7,81.7 559,86.5" fill="#f8d349"/><polygon points="579.1,87.4 585.8,82.9 579.1,80.1 572.4,84.6" fill="#f8c947"/><polygon points="592.6,85.7 599.3,81.5 592.6,78.7 585.8,82.9" fill="#f8c145"/><polygon points="606,84.3 612.7,80.4 606,77.7 599.3,81.5" fill="#f8ba43"/><polygon points="619.4,83.1 626.2,79.6 619.4,76.9 612.7,80.4" fill="#f8b642"/><polygon points="632.9,82.2 639.6,79 632.9,76.3 626.2,79.6" fill="#f8b341"/><polygon points="646.3,81.6 653,78.7 646.3,76.1 639.6,79" fill="#f8b241"/><polygon points="659.8,81.2 666.5,78.6 659.8,76 653,78.7" fill="#f8b341"/><polygon points="673.2,81.1 679.9,78.8 673.2,76.3 666.5,78.6" fill="#f8b541"/><polygon points="686.6,81.3 693.3,79.3 686.6,76.8 679.9,78.8" fill="#f8b943"/><polygon points="700,81.7 706.6,80.1 699.9,77.6 693.3,79.3" fill="#f8c044"/><polygon points="479.4,113.9 485.8,106.8 479.1,103.5 472.7,110.6" fill="#89f45b"/><polygon points="492.5,110 499.1,103.2 492.3,100 485.8,106.8" fill="#9cf557"/><polygon points="505.8,106.3 512.3,99.9 505.6,96.8 499.1,103.2" fill="#b2f554"/><polygon points="519,103 525.6,96.9 518.9,93.8 512.3,99.9" fill="#c9f552"/><polygon points="532.4,99.9 539,94.1 532.2,91.1 525.6,96.9" fill="#def450"/><polygon points="545.7,97 552.3,91.6 545.6,88.7 539,94.1" fill="#eceb4f"/><polygon points="559.1,94.5 565.7,89.4 559,86.5 552.3,91.6" fill="#f8e34e"/><polygon points="572.5,92.2 579.1,87.4 572.4,84.6 565.7,89.4" fill="#f8d74b"/><polygon points="585.9,90.1 592.6,85.7 585.8,82.9 579.1,87.4" fill="#f8cd48"/><polygon points="599.3,88.4 606,84.3 599.3,81.5 592.6,85.7" fill="#f8c546"/><polygon points="612.7,86.9 619.4,83.1 612.7,80.4 606,84.3" fill="#f8be44"/><polygon points="626.2,85.7 632.9,82.2 626.2,79.6 619.4,83.1" fill="#f8b943"/><polygon points="639.6,84.7 646.3,81.6 639.6,79 632.9,82.2" fill="#f8b642"/><polygon points="653,84 659.8,81.2 653,78.7 646.3,81.6" fill="#f8b542"/><polygon points="666.5,83.6 673.2,81.1 666.5,78.6 659.8,81.2" fill="#f8b642"/><polygon points="679.9,83.5 686.6,81.3 679.9,78.8 673.2,81.1" fill="#f8b942"/><polygon points="693.3,83.6 700,81.7 693.3,79.3 686.6,81.3" fill="#f8bd44"/><polygon points="706.6,84 713.3,82.4 706.6,80.1 700,81.7" fill="#f8c345"/><polygon points="472.9,121.2 479.4,113.9 472.7,110.6 466.2,118" fill="#70f360"/><polygon points="486.1,117 492.5,110 485.8,106.8 479.4,113.9" fill="#85f45b"/><polygon points="499.3,113.1 505.8,106.3 499.1,103.2 492.5,110" fill="#99f457"/><polygon points="512.5,109.4 519,103 512.3,99.9 505.8,106.3" fill="#adf554"/><polygon points="525.8,105.9 532.4,99.9 525.6,96.9 519,103" fill="#c5f552"/><polygon points="539.1,102.8 545.7,97 539,94.1 532.4,99.9" fill="#daf550"/><polygon points="552.4,99.9 559.1,94.5 552.3,91.6 545.7,97" fill="#e9ed4f"/><polygon points="565.8,97.2 572.5,92.2 565.7,89.4 559.1,94.5" fill="#f6e54e"/><polygon points="579.2,94.9 585.9,90.1 579.1,87.4 572.5,92.2" fill="#f8db4b"/><polygon points="592.6,92.8 599.3,88.4 592.6,85.7 585.9,90.1" fill="#f8d049"/><polygon points="606,91 612.7,86.9 606,84.3 599.3,88.4" fill="#f8c847"/><polygon points="619.4,89.4 626.2,85.7 619.4,83.1 612.7,86.9" fill="#f8c145"/><polygon points="632.9,88.1 639.6,84.7 632.9,82.2 626.2,85.7" fill="#f8bd44"/><polygon points="646.3,87.1 653,84 646.3,81.6 639.6,84.7" fill="#f8ba43"/><polygon points="659.7,86.4 666.5,83.6 659.8,81.2 653,84" fill="#f8b842"/><polygon points="673.2,86 679.9,83.5 673.2,81.1 666.5,83.6" fill="#f8b943"/><polygon points="686.6,85.8 693.3,83.6 686.6,81.3 679.9,83.5" fill="#f8bb43"/><polygon points="700,85.9 706.6,84 700,81.7 693.3,83.6" fill="#f8c044"/><polygon points="713.3,86.2 720,84.7 713.3,82.4 706.6,84" fill="#f8c646"/><polygon points="466.5,128.9 472.9,121.2 466.2,118 459.9,125.7" fill="#62f266"/><polygon points="479.6,124.4 486.1,117 479.4,113.9 472.9,121.2" fill="#6cf260"/><polygon points="492.8,120.1 499.3,113.1 492.5,110 486.1,117" fill="#82f35c"/><polygon points="506,116 512.5,109.4 505.8,106.3 499.3,113.1" fill="#95f458"/><polygon points="519.2,112.3 525.8,105.9 519,103 512.5,109.4" fill="#a9f555"/><polygon points="532.5,108.8 539.1,102.8 532.4,99.9 525.8,105.9" fill="#c0f553"/><polygon points="545.8,105.6 552.4,99.9 545.7,97 539.1,102.8" fill="#d6f551"/><polygon points="559.1,102.6 565.8,97.2 559.1,94.5 552.4,99.9" fill="#e6ef4f"/><polygon points="572.5,99.9 579.2,94.9 572.5,92.2 565.8,97.2" fill="#f3e74e"/><polygon points="585.9,97.5 592.6,92.8 585.9,90.1 579.2,94.9" fill="#f8de4c"/><polygon points="599.3,95.3 606,91 599.3,88.4 592.6,92.8" fill="#f8d34a"/><polygon points="612.7,93.5 619.4,89.4 612.7,86.9 606,91" fill="#f8cb47"/><polygon points="626.2,91.9 632.9,88.1 626.2,85.7 619.4,89.4" fill="#f8c446"/><polygon points="639.6,90.5 646.3,87.1 639.6,84.7 632.9,88.1" fill="#f8bf44"/><polygon points="653,89.5 659.7,86.4 653,84 646.3,87.1" fill="#f8bc43"/><polygon points="666.5,88.7 673.2,86 666.5,83.6 659.7,86.4" fill="#f8bb43"/><polygon points="679.9,88.2 686.6,85.8 679.9,83.5 673.2,86" fill="#f8bc43"/><polygon points="693.3,88 700,85.9 693.3,83.6 686.6,85.8" fill="#f8be44"/><polygon points="706.7,88 713.3,86.2 706.6,84 700,85.9" fill="#f8c245"/><polygon points="720,88.3 726.7,86.9 720,84.7 713.3,86.2" fill="#f8c847"/><polygon points="473.2,132.1 479.6,124.4 472.9,121.2 466.5,128.9" fill="#62f267"/><polygon points="486.3,127.4 492.8,120.1 486.1,117 479.6,124.4" fill="#6af261"/><polygon points="499.5,123.1 506,116 499.3,113.1 492.8,120.1" fill="#7ff35d"/><polygon points="512.6,118.9 519.2,112.3 512.5,109.4 506,116" fill="#93f459"/><polygon points="525.9,115.1 532.5,108.8 525.8,105.9 519.2,112.3" fill="#a5f555"/><polygon points="539.2,111.5 545.8,105.6 539.1,102.8 532.5,108.8" fill="#bdf553"/><polygon points="552.5,108.2 559.1,102.6 552.4,99.9 545.8,105.6" fill="#d2f551"/><polygon points="565.8,105.2 572.5,99.9 565.8,97.2 559.1,102.6" fill="#e3f14f"/><polygon points="579.2,102.5 585.9,97.5 579.2,94.9 572.5,99.9" fill="#f0e94f"/><polygon points="592.6,100 599.3,95.3 592.6,92.8 585.9,97.5" fill="#f8e04d"/><polygon points="606,97.8 612.7,93.5 606,91 599.3,95.3" fill="#f8d64a"/><polygon points="619.4,95.9 626.2,91.9 619.4,89.4 612.7,93.5" fill="#f8cd48"/><polygon points="632.9,94.2 639.6,90.5 632.9,88.1 626.2,91.9" fill="#f8c746"/><polygon points="646.3,92.8 653,89.5 646.3,87.1 639.6,90.5" fill="#f8c245"/><polygon points="659.7,91.7 666.5,88.7 659.7,86.4 653,89.5" fill="#f8be44"/><polygon points="673.2,90.9 679.9,88.2 673.2,86 666.5,88.7" fill="#f8bd44"/><polygon points="686.6,90.3 693.3,88 686.6,85.8 679.9,88.2" fill="#f8bd44"/><polygon points="700,90.1 706.7,88 700,85.9 693.3,88" fill="#f8c044"/><polygon points="713.4,90.1 720,88.3 713.3,86.2 706.7,88" fill="#f8c445"/><polygon points="479.9,135.1 486.3,127.4 479.6,124.4 473.2,132.1" fill="#61f368"/><polygon points="493,130.4 499.5,123.1 492.8,120.1 486.3,127.4" fill="#67f261"/><polygon points="506.1,125.9 512.6,118.9 506,116 499.5,123.1" fill="#7df35d"/><polygon points="519.3,121.7 525.9,115.1 519.2,112.3 512.6,118.9" fill="#91f459"/><polygon points="532.6,117.8 539.2,111.5 532.5,108.8 525.9,115.1" fill="#a3f555"/><polygon points="545.9,114.2 552.5,108.2 545.8,105.6 539.2,111.5" fill="#baf553"/><polygon points="559.2,110.8 565.8,105.2 559.1,102.6 552.5,108.2" fill="#cff551"/><polygon points="572.5,107.8 579.2,102.5 572.5,99.9 565.8,105.2" fill="#e1f250"/><polygon points="585.9,104.9 592.6,100 585.9,97.5 579.2,102.5" fill="#eeea4f"/><polygon points="599.3,102.4 606,97.8 599.3,95.3 592.6,100" fill="#f8e24e"/><polygon points="612.7,100.1 619.4,95.9 612.7,93.5 606,97.8" fill="#f8d84b"/><polygon points="626.2,98.1 632.9,94.2 626.2,91.9 619.4,95.9" fill="#f8cf48"/><polygon points="639.6,96.4 646.3,92.8 639.6,90.5 632.9,94.2" fill="#f8c847"/><polygon points="653,95 659.7,91.7 653,89.5 646.3,92.8" fill="#f8c345"/><polygon points="666.5,93.9 673.2,90.9 666.5,88.7 659.7,91.7" fill="#f8c044"/><polygon points="679.9,93 686.6,90.3 679.9,88.2 673.2,90.9" fill="#f8be44"/><polygon points="693.3,92.4 700,90.1 693.3,88 686.6,90.3" fill="#f8bf44"/><polygon points="706.7,92.1 713.4,90.1 706.7,88 700,90.1" fill="#f8c145"/><polygon points="486.6,138 493,130.4 486.3,127.4 479.9,135.1" fill="#61f369"/><polygon points="499.7,133.2 506.1,125.9 499.5,123.1 493,130.4" fill="#65f262"/><polygon points="512.8,128.7 519.3,121.7 512.6,118.9 506.1,125.9" fill="#7bf35d"/><polygon points="526,124.5 532.6,117.8 525.9,115.1 519.3,121.7" fill="#8ff459"/><polygon points="539.3,120.5 545.9,114.2 539.2,111.5 532.6,117.8" fill="#a1f556"/><polygon points="552.6,116.8 559.2,110.8 552.5,108.2 545.9,114.2" fill="#b8f553"/><polygon points="565.9,113.3 572.5,107.8 565.8,105.2 559.2,110.8" fill="#cdf551"/><polygon points="579.3,110.2 585.9,104.9 579.2,102.5 572.5,107.8" fill="#e0f350"/><polygon points="592.6,107.3 599.3,102.4 592.6,100 585.9,104.9" fill="#edeb4f"/><polygon points="606,104.7 612.7,100.1 606,97.8 599.3,102.4" fill="#f8e44e"/><polygon points="619.5,102.4 626.2,98.1 619.4,95.9 612.7,100.1" fill="#f8d94b"/><polygon points="632.9,100.3 639.6,96.4 632.9,94.2 626.2,98.1" fill="#f8d049"/><polygon points="646.3,98.6 653,95 646.3,92.8 639.6,96.4" fill="#f8c947"/><polygon points="659.7,97.1 666.5,93.9 659.7,91.7 653,95" fill="#f8c446"/><polygon points="673.2,95.9 679.9,93 673.2,90.9 666.5,93.9" fill="#f8c145"/><polygon points="686.6,95 693.3,92.4 686.6,90.3 679.9,93" fill="#f8bf44"/><polygon points="700,94.3 706.7,92.1 700,90.1 693.3,92.4" fill="#f8c044"/><polygon points="493.2,140.8 499.7,133.2 493,130.4 486.6,138" fill="#61f369"/><polygon points="506.3,136 512.8,128.7 506.1,125.9 499.7,133.2" fill="#64f262"/><polygon points="519.5,131.4 526,124.5 519.3,121.7 512.8,128.7" fill="#7af35e"/><polygon points="532.7,127.1 539.3,120.5 532.6,117.8 526,124.5" fill="#8ef45a"/><polygon points="546,123 552.6,116.8 545.9,114.2 539.3,120.5" fill="#a0f556"/><polygon points="559.3,119.2 565.9,113.3 559.2,110.8 552.6,116.8" fill="#b6f553"/><polygon points="572.6,115.7 579.3,110.2 572.5,107.8 565.9,113.3" fill="#ccf551"/><polygon points="586,112.5 592.6,107.3 585.9,104.9 579.3,110.2" fill="#dff350"/><polygon points="599.3,109.6 606,104.7 599.3,102.4 592.6,107.3" fill="#eceb4f"/><polygon points="612.8,106.9 619.5,102.4 612.7,100.1 606,104.7" fill="#f8e44e"/><polygon points="626.2,104.5 632.9,100.3 626.2,98.1 619.5,102.4" fill="#f8da4b"/><polygon points="639.6,102.4 646.3,98.6 639.6,96.4 632.9,100.3" fill="#f8d149"/><polygon points="653,100.6 659.7,97.1 653,95 646.3,98.6" fill="#f8ca47"/><polygon points="666.5,99.1 673.2,95.9 666.5,93.9 659.7,97.1" fill="#f8c546"/><polygon points="679.9,97.8 686.6,95 679.9,93 673.2,95.9" fill="#f8c145"/><polygon points="693.3,96.9 700,94.3 693.3,92.4 686.6,95" fill="#f8c044"/><polygon points="499.9,143.6 506.3,136 499.7,133.2 493.2,140.8" fill="#61f369"/><polygon points="513,138.6 519.5,131.4 512.8,128.7 506.3,136" fill="#64f262"/><polygon points="526.2,134 532.7,127.1 526,124.5 519.5,131.4" fill="#79f35e"/><polygon points="539.4,129.6 546,123 539.3,120.5 532.7,127.1" fill="#8df45a"/><polygon points="552.7,125.4 559.3,119.2 552.6,116.8 546,123" fill="#a0f556"/><polygon points="566,121.6 572.6,115.7 565.9,113.3 559.3,119.2" fill="#b5f554"/><polygon points="579.3,118 586,112.5 579.3,110.2 572.6,115.7" fill="#cbf552"/><polygon points="592.7,114.7 599.3,109.6 592.6,107.3 586,112.5" fill="#def450"/><polygon points="606.1,111.7 612.8,106.9 606,104.7 599.3,109.6" fill="#ecec4f"/><polygon points="619.5,109 626.2,104.5 619.5,102.4 612.8,106.9" fill="#f7e44e"/><polygon points="632.9,106.6 639.6,102.4 632.9,100.3 626.2,104.5" fill="#f8da4b"/><polygon points="646.3,104.4 653,100.6 646.3,98.6 639.6,102.4" fill="#f8d149"/><polygon points="659.8,102.6 666.5,99.1 659.7,97.1 653,100.6" fill="#f8ca47"/><polygon points="673.2,101 679.9,97.8 673.2,95.9 666.5,99.1" fill="#f8c546"/><polygon points="686.6,99.7 693.3,96.9 686.6,95 679.9,97.8" fill="#f8c145"/><polygon points="506.5,146.2 513,138.6 506.3,136 499.9,143.6" fill="#61f36a"/><polygon points="519.6,141.2 526.2,134 519.5,131.4 513,138.6" fill="#64f262"/><polygon points="532.8,136.4 539.4,129.6 532.7,127.1 526.2,134" fill="#78f35e"/><polygon points="546.1,132 552.7,125.4 546,123 539.4,129.6" fill="#8df45a"/><polygon points="559.3,127.8 566,121.6 559.3,119.2 552.7,125.4" fill="#9ff556"/><polygon points="572.7,123.8 579.3,118 572.6,115.7 566,121.6" fill="#b5f554"/><polygon points="586,120.2 592.7,114.7 586,112.5 579.3,118" fill="#cbf552"/><polygon points="599.4,116.9 606.1,111.7 599.3,109.6 592.7,114.7" fill="#def450"/><polygon points="612.8,113.8 619.5,109 612.8,106.9 606.1,111.7" fill="#ecec4f"/><polygon points="626.2,111 632.9,106.6 626.2,104.5 619.5,109" fill="#f7e44e"/><polygon points="639.6,108.5 646.3,104.4 639.6,102.4 632.9,106.6" fill="#f8da4b"/><polygon points="653,106.3 659.8,102.6 653,100.6 646.3,104.4" fill="#f8d149"/><polygon points="666.5,104.4 673.2,101 666.5,99.1 659.8,102.6" fill="#f8ca47"/><polygon points="679.9,102.7 686.6,99.7 679.9,97.8 673.2,101" fill="#f8c446"/><polygon points="513.2,148.7 519.6,141.2 513,138.6 506.5,146.2" fill="#61f36a"/><polygon points="526.3,143.6 532.8,136.4 526.2,134 519.6,141.2" fill="#64f262"/><polygon points="539.5,138.8 546.1,132 539.4,129.6 532.8,136.4" fill="#78f35e"/><polygon points="552.7,134.2 559.3,127.8 552.7,125.4 546.1,132" fill="#8df45a"/><polygon points="566,130 572.7,123.8 566,121.6 559.3,127.8" fill="#a0f556"/><polygon points="579.4,126 586,120.2 579.3,118 572.7,123.8" fill="#b6f553"/><polygon points="592.7,122.3 599.4,116.9 592.7,114.7 586,120.2" fill="#ccf551"/><polygon points="606.1,118.9 612.8,113.8 606.1,111.7 599.4,116.9" fill="#dff350"/><polygon points="619.5,115.8 626.2,111 619.5,109 612.8,113.8" fill="#eceb4f"/><polygon points="632.9,112.9 639.6,108.5 632.9,106.6 626.2,111" fill="#f8e44e"/><polygon points="646.3,110.4 653,106.3 646.3,104.4 639.6,108.5" fill="#f8d94b"/><polygon points="659.8,108.1 666.5,104.4 659.8,102.6 653,106.3" fill="#f8d049"/><polygon points="673.2,106.1 679.9,102.7 673.2,101 666.5,104.4" fill="#f8c947"/><polygon points="519.8,151.1 526.3,143.6 519.6,141.2 513.2,148.7" fill="#61f36a"/><polygon points="533,145.9 539.5,138.8 532.8,136.4 526.3,143.6" fill="#64f262"/><polygon points="546.2,141 552.7,134.2 546.1,132 539.5,138.8" fill="#79f35e"/><polygon points="559.4,136.4 566,130 559.3,127.8 552.7,134.2" fill="#8df45a"/><polygon points="572.7,132.1 579.4,126 572.7,123.8 566,130" fill="#a0f556"/><polygon points="586,128 592.7,122.3 586,120.2 579.4,126" fill="#b7f553"/><polygon points="599.4,124.3 606.1,118.9 599.4,116.9 592.7,122.3" fill="#cdf551"/><polygon points="612.8,120.8 619.5,115.8 612.8,113.8 606.1,118.9" fill="#e0f350"/><polygon points="626.2,117.6 632.9,112.9 626.2,111 619.5,115.8" fill="#edea4f"/><polygon points="639.6,114.7 646.3,110.4 639.6,108.5 632.9,112.9" fill="#f8e34e"/><polygon points="653,112.1 659.8,108.1 653,106.3 646.3,110.4" fill="#f8d84b"/><polygon points="666.5,109.8 673.2,106.1 666.5,104.4 659.8,108.1" fill="#f8cf48"/><polygon points="526.4,153.4 533,145.9 526.3,143.6 519.8,151.1" fill="#61f369"/><polygon points="539.6,148.2 546.2,141 539.5,138.8 533,145.9" fill="#64f262"/><polygon points="552.8,143.2 559.4,136.4 552.7,134.2 546.2,141" fill="#7af35e"/><polygon points="566.1,138.5 572.7,132.1 566,130 559.4,136.4" fill="#8ff459"/><polygon points="579.4,134.1 586,128 579.4,126 572.7,132.1" fill="#a1f556"/><polygon points="592.7,130 599.4,124.3 592.7,122.3 586,128" fill="#b9f553"/><polygon points="606.1,126.1 612.8,120.8 606.1,118.9 599.4,124.3" fill="#cff551"/><polygon points="619.5,122.6 626.2,117.6 619.5,115.8 612.8,120.8" fill="#e1f250"/><polygon points="632.9,119.3 639.6,114.7 632.9,112.9 626.2,117.6" fill="#efe94f"/><polygon points="646.3,116.4 653,112.1 646.3,110.4 639.6,114.7" fill="#f8e14d"/><polygon points="659.8,113.7 666.5,109.8 659.8,108.1 653,112.1" fill="#f8d64a"/><polygon points="533.1,155.6 539.6,148.2 533,145.9 526.4,153.4" fill="#61f369"/><polygon points="546.3,150.3 552.8,143.2 546.2,141 539.6,148.2" fill="#66f262"/><polygon points="559.5,145.2 566.1,138.5 559.4,136.4 552.8,143.2" fill="#7cf35d"/><polygon points="572.8,140.5 579.4,134.1 572.7,132.1 566.1,138.5" fill="#90f459"/><polygon points="586.1,136 592.7,130 586,128 579.4,134.1" fill="#a3f555"/><polygon points="599.4,131.8 606.1,126.1 599.4,124.3 592.7,130" fill="#bbf553"/><polygon points="612.8,127.9 619.5,122.6 612.8,120.8 606.1,126.1" fill="#d1f551"/><polygon points="626.2,124.3 632.9,119.3 626.2,117.6 619.5,122.6" fill="#e3f14f"/><polygon points="639.6,121 646.3,116.4 639.6,114.7 632.9,119.3" fill="#f1e84e"/><polygon points="653.1,117.9 659.8,113.7 653,112.1 646.3,116.4" fill="#f8de4d"/><polygon points="539.7,157.7 546.3,150.3 539.6,148.2 533.1,155.6" fill="#61f368"/><polygon points="552.9,152.3 559.5,145.2 552.8,143.2 546.3,150.3" fill="#67f261"/><polygon points="566.2,147.2 572.8,140.5 566.1,138.5 559.5,145.2" fill="#7ef35d"/><polygon points="579.5,142.3 586.1,136 579.4,134.1 572.8,140.5" fill="#92f459"/><polygon points="592.8,137.8 599.4,131.8 592.7,130 586.1,136" fill="#a5f555"/><polygon points="606.1,133.5 612.8,127.9 606.1,126.1 599.4,131.8" fill="#bef553"/><polygon points="619.5,129.5 626.2,124.3 619.5,122.6 612.8,127.9" fill="#d5f551"/><polygon points="632.9,125.9 639.6,121 632.9,119.3 626.2,124.3" fill="#e6ef4f"/><polygon points="646.4,122.5 653.1,117.9 646.3,116.4 639.6,121" fill="#f4e74e"/><polygon points="546.4,159.7 552.9,152.3 546.3,150.3 539.7,157.7" fill="#62f268"/><polygon points="559.6,154.2 566.2,147.2 559.5,145.2 552.9,152.3" fill="#6af261"/><polygon points="572.8,149 579.5,142.3 572.8,140.5 566.2,147.2" fill="#80f35c"/><polygon points="586.1,144.1 592.8,137.8 586.1,136 579.5,142.3" fill="#95f458"/><polygon points="599.5,139.4 606.1,133.5 599.4,131.8 592.8,137.8" fill="#a9f555"/><polygon points="612.8,135.1 619.5,129.5 612.8,127.9 606.1,133.5" fill="#c2f552"/><polygon points="626.2,131.1 632.9,125.9 626.2,124.3 619.5,129.5" fill="#d9f550"/><polygon points="639.6,127.3 646.4,122.5 639.6,121 632.9,125.9" fill="#e9ed4f"/><polygon points="553,161.5 559.6,154.2 552.9,152.3 546.4,159.7" fill="#62f267"/><polygon points="566.2,156 572.8,149 566.2,147.2 559.6,154.2" fill="#6df260"/><polygon points="579.5,150.7 586.1,144.1 579.5,142.3 572.8,149" fill="#83f35c"/><polygon points="592.8,145.7 599.5,139.4 592.8,137.8 586.1,144.1" fill="#98f458"/><polygon points="606.2,141 612.8,135.1 606.1,133.5 599.5,139.4" fill="#adf554"/><polygon points="619.5,136.6 626.2,131.1 619.5,129.5 612.8,135.1" fill="#c6f552"/><polygon points="632.9,132.5 639.6,127.3 632.9,125.9 626.2,131.1" fill="#ddf450"/><polygon points="559.7,163.3 566.2,156 559.6,154.2 553,161.5" fill="#62f266"/><polygon points="572.9,157.6 579.5,150.7 572.8,149 566.2,156" fill="#70f360"/><polygon points="586.2,152.2 592.8,145.7 586.1,144.1 579.5,150.7" fill="#86f45b"/><polygon points="599.5,147.2 606.2,141 599.5,139.4 592.8,145.7" fill="#9bf557"/><polygon points="612.9,142.4 619.5,136.6 612.8,135.1 606.2,141" fill="#b3f554"/><polygon points="626.3,137.9 632.9,132.5 626.2,131.1 619.5,136.6" fill="#ccf551"/><polygon points="566.3,164.9 572.9,157.6 566.2,156 559.7,163.3" fill="#63f265"/><polygon points="579.6,159.1 586.2,152.2 579.5,150.7 572.9,157.6" fill="#74f35f"/><polygon points="592.9,153.7 599.5,147.2 592.8,145.7 586.2,152.2" fill="#8af45a"/><polygon points="606.2,148.6 612.9,142.4 606.2,141 599.5,147.2" fill="#9ff556"/><polygon points="619.6,143.7 626.3,137.9 619.5,136.6 612.9,142.4" fill="#b8f553"/><polygon points="573,166.4 579.6,159.1 572.9,157.6 566.3,164.9" fill="#63f263"/><polygon points="586.2,160.6 592.9,153.7 586.2,152.2 579.6,159.1" fill="#78f35e"/><polygon points="599.5,155 606.2,148.6 599.5,147.2 592.9,153.7" fill="#8ff459"/><polygon points="612.9,149.8 619.6,143.7 612.9,142.4 606.2,148.6" fill="#a4f555"/><polygon points="579.6,167.8 586.2,160.6 579.6,159.1 573,166.4" fill="#65f262"/><polygon points="592.9,161.9 599.5,155 592.9,153.7 586.2,160.6" fill="#7df35d"/><polygon points="606.2,156.3 612.9,149.8 606.2,148.6 599.5,155" fill="#93f459"/><polygon points="586.3,169 592.9,161.9 586.2,160.6 579.6,167.8" fill="#6af261"/><polygon points="599.6,163 606.2,156.3 599.5,155 592.9,161.9" fill="#82f35c"/><polygon points="593,170.1 599.6,163 592.9,161.9 586.3,169" fill="#6ff360"/></g>
<line x1="592.7" y1="63.1" x2="592.7" y2="85.5" stroke="#5a1010" stroke-width="0.8"/>
<line x1="664.6" y1="94.2" x2="664.6" y2="107.9" stroke="#5a1010" stroke-width="0.8"/>
<circle cx="528.9" cy="54.9" r="2.45" fill="#c80000" stroke="#600000" stroke-width="0.6"/>
<circle cx="592.7" cy="63.1" r="2.45" fill="#c80000" stroke="#600000" stroke-width="0.6"/>
<circle cx="592.7" cy="75.6" r="2.45" fill="#c80000" stroke="#600000" stroke-width="0.6"/>
<circle cx="592.7" cy="79.7" r="2.45" fill="#c80000" stroke="#600000" stroke-width="0.6"/>
<circle cx="592.7" cy="85.5" r="2.45" fill="#c80000" stroke="#600000" stroke-width="0.6"/>
<circle cx="664.6" cy="94.2" r="2.45" fill="#c80000" stroke="#600000" stroke-width="0.6"/>
<text x="432.1" y="177.6" font-family="'Liberation Sans', sans-serif" font-size="10.5" fill="#3c3c3c" stroke="#3c3c3c" stroke-width="0.22" textLength="24.3" lengthAdjust="spacingAndGlyphs">42.00</text>
<text x="430.8" y="150" font-family="'Liberation Sans', sans-serif" font-size="10.5" fill="#3c3c3c" stroke="#3c3c3c" stroke-width="0.22" textLength="24.3" lengthAdjust="spacingAndGlyphs">43.00</text>
<text x="429.6" y="122.4" font-family="'Liberation Sans', sans-serif" font-size="10.5" fill="#3c3c3c" stroke="#3c3c3c" stroke-width="0.22" textLength="24.3" lengthAdjust="spacingAndGlyphs">44.00</text>
<text x="428.3" y="94.8" font-family="'Liberation Sans', sans-serif" font-size="10.5" fill="#3c3c3c" stroke="#3c3c3c" stroke-width="0.22" textLength="24.3" lengthAdjust="spacingAndGlyphs">45.00</text>
<text x="427" y="67.2" font-family="'Liberation Sans', sans-serif" font-size="10.5" fill="#3c3c3c" stroke="#3c3c3c" stroke-width="0.22" textLength="24.3" lengthAdjust="spacingAndGlyphs">46.00</text>
<text x="425.7" y="39.6" font-family="'Liberation Sans', sans-serif" font-size="10.5" fill="#3c3c3c" stroke="#3c3c3c" stroke-width="0.22" textLength="24.3" lengthAdjust="spacingAndGlyphs">47.00</text>
<text x="440.2" y="235.7" font-family="'Liberation Sans', sans-serif" font-size="10.5" fill="#3c3c3c" stroke="#3c3c3c" stroke-width="0.22" textLength="18.3" lengthAdjust="spacingAndGlyphs">0.25</text>
<text x="472.3" y="251.6" font-family="'Liberation Sans', sans-serif" font-size="10.5" fill="#3c3c3c" stroke="#3c3c3c" stroke-width="0.22" textLength="18.3" lengthAdjust="spacingAndGlyphs">0.23</text>
<text x="504.4" y="267.4" font-family="'Liberation Sans', sans-serif" font-size="10.5" fill="#3c3c3c" stroke="#3c3c3c" stroke-width="0.22" textLength="18.3" lengthAdjust="spacingAndGlyphs">0.20</text>
<text x="536.5" y="283.2" font-family="'Liberation Sans', sans-serif" font-size="10.5" fill="#3c3c3c" stroke="#3c3c3c" stroke-width="0.22" textLength="18.3" lengthAdjust="spacingAndGlyphs">0.18</text>
<text x="568.7" y="299" font-family="'Liberation Sans', sans-serif" font-size="10.5" fill="#3c3c3c" stroke="#3c3c3c" stroke-width="0.22" textLength="18.3" lengthAdjust="spacingAndGlyphs">0.15</text>
<text x="598.3" y="299" font-family="'Liberation Sans', sans-serif" font-size="10.5" fill="#3c3c3c" stroke="#3c3c3c" stroke-width="0.22" textLength="9.5" lengthAdjust="spacingAndGlyphs">27</text>
<text x="630.3" y="283.1" font-family="'Liberation Sans', sans-serif" font-size="10.5" fill="#3c3c3c" stroke="#3c3c3c" stroke-width="0.22" textLength="9.5" lengthAdjust="spacingAndGlyphs">36</text>
<text x="662.3" y="267.2" font-family="'Liberation Sans', sans-serif" font-size="10.5" fill="#3c3c3c" stroke="#3c3c3c" stroke-width="0.22" textLength="9.5" lengthAdjust="spacingAndGlyphs">45</text>
<text x="694.4" y="251.3" font-family="'Liberation Sans', sans-serif" font-size="10.5" fill="#3c3c3c" stroke="#3c3c3c" stroke-width="0.22" textLength="9.5" lengthAdjust="spacingAndGlyphs">54</text>
<text x="726.4" y="235.4" font-family="'Liberation Sans', sans-serif" font-size="10.5" fill="#3c3c3c" stroke="#3c3c3c" stroke-width="0.22" textLength="9.5" lengthAdjust="spacingAndGlyphs">63</text>
<text x="440.7" y="284" font-family="'Liberation Sans', sans-serif" font-size="10.4" fill="#3c3c3c" stroke="#3c3c3c" stroke-width="0.22" textLength="76.4" lengthAdjust="spacingAndGlyphs">C: MgSO4 (gm/l)</text>
<text x="668.7" y="283.7" font-family="'Liberation Sans', sans-serif" font-size="10.4" fill="#3c3c3c" stroke="#3c3c3c" stroke-width="0.22" textLength="74.8" lengthAdjust="spacingAndGlyphs">A: Carbon (gm/l)</text>
<text x="418.3" y="176.4" font-family="'Liberation Sans', sans-serif" font-size="10.4" fill="#3c3c3c" stroke="#3c3c3c" stroke-width="0.22" textLength="80.6" lengthAdjust="spacingAndGlyphs" transform="rotate(-90 418.3 176.4)">Phosphate (mg/l)</text>
<text x="590" y="322.1" font-family="'Liberation Serif', serif" font-size="21" fill="#111" textLength="23.1" lengthAdjust="spacingAndGlyphs">(B)</text>
<path d="M50.6,380.8 L187.3,347.3 L323.6,379.9 M57,526.7 L187.1,478.4 L317.4,526.4 M55.7,497.5 L187.2,452.2 L318.6,497.1 M54.4,468.3 L187.2,425.9 L319.9,467.8 M53.1,439.1 L187.2,399.7 L321.1,438.5 M51.9,410 L187.3,373.5 L322.3,409.2 M89.5,514.6 L84.8,372.4 M284.8,514.4 L289.5,371.8 M122.1,502.5 L118.9,364 M252.3,502.4 L255.4,363.6 M154.6,490.5 L153.1,355.7 M219.7,490.4 L221.4,355.5 M59,573.1 L50.6,380.8 M187.1,520.1 L187.3,347.3 M315.4,573 L323.6,379.9" fill="none" stroke="#333333" stroke-width="1.05"/>
<polygon points="187.5,639.4 315.4,573 187.1,520.1 59,573.1" fill="#646464" stroke="#1a1a1a" stroke-width="1.1"/>
<polyline points="203.2,631.2 202.7,630.1 202.4,629.2 202,628.4 201.6,627.5 201,626.4 200.5,625.4 199.9,624.4 199.3,623.4 198.6,622.5 198,621.5 197.3,620.6 196.5,619.7 195.8,618.8 194.8,617.7 193.7,616.6 192.9,615.7 192,614.9 190.6,613.7 189.6,612.9 188.5,612 187.1,611 185.6,609.9 184.3,609.1 182.6,608.1 180.8,607.1 179,606.1 177.7,605.4 176.4,604.8 174.4,603.9 172.4,603 170.3,602.1 168.1,601.3 166.6,600.8 164.4,600 162.8,599.5 160.5,598.7 158.8,598.2 157.1,597.7 154.7,597.1 153,596.6 151.3,596.2 149.2,595.7 146.9,595.2 145.1,594.8 143.3,594.4 141.5,594 139.6,593.6 137.7,593.3 135.8,592.9 133.9,592.5 132,592.2 130,591.9 128,591.6 126,591.2 124,590.9 121.9,590.6 120.1,590.4 118.4,590.1 116.8,589.9 114.7,589.6 112.5,589.3 110.4,589.1 108.7,588.9 107.1,588.7 105,588.4 102.8,588.2 101,588 99.4,587.8 97.2,587.6 95,587.4 93.5,587.2 91.5,587 89.2,586.8 87.7,586.7 85.8,586.5 84.8,586.4" fill="none" stroke="#e8e820" stroke-width="1.9"/>
<polyline points="238.9,612.7 238.5,611.6 238.2,610.7 237.9,609.9 237.5,609 237,608 236.5,607 235.9,606 235.3,605 234.7,604.1 234.1,603.2 233.4,602.2 232.6,601.4 231.9,600.5 231.1,599.7 230.2,598.8 228.9,597.6 228,596.8 227.1,596.1 225.6,595 224.5,594.3 222.9,593.2 221.2,592.2 220,591.6 218.2,590.6 216.3,589.7 214.3,588.8 212.8,588.2 210.8,587.5 208.7,586.7 207,586.2 204.9,585.5 203.2,585 200.9,584.4 199.3,583.9 197.2,583.4 195.1,582.9 193.3,582.5 191.6,582.1 189.8,581.8 187.8,581.4 185.7,581 183.6,580.7 181.7,580.3 179.8,580 177.9,579.8 176.1,579.5 174.3,579.3 172.5,579 170.5,578.8 168.4,578.5 166.3,578.3 164.2,578 162.5,577.9 160.9,577.7 158.9,577.5 156.7,577.3 154.6,577.1 153.1,577 151.2,576.8 148.9,576.6 147.1,576.5 145.5,576.4 143.2,576.2 141.3,576.1 139.8,576 137.4,575.8 135.6,575.7 133.9,575.6 131.5,575.4 130,575.4 127.9,575.2 125.9,575.1 124.3,575.1 121.9,574.9 120.5,574.9 118.2,574.8 116.5,574.7 114.5,574.6 112.5,574.5 110.7,574.4 108.6,574.3 106.9,574.3 104.7,574.2 103.1,574.1 100.8,574 99.3,574 97,573.9 95.4,573.9 93.2,573.8 91.5,573.7 89.4,573.7 87.6,573.6 85.6,573.6 83.7,573.5 81.8,573.4 79.7,573.4 78.1,573.3 75.7,573.3 74.4,573.2 71.9,573.2 70.4,573.1 68.3,573.1 66.3,573 64.6,573 62.3,572.9 60.9,572.9 59.5,572.9" fill="none" stroke="#f0d020" stroke-width="1.9"/>
<polyline points="283.4,589.6 283.2,588.9 283,588 282.7,586.9 282.4,586.1 282.2,585.3 281.7,584.3 281.3,583.4 280.8,582.4 280.2,581.5 279.7,580.7 279,579.8 278.3,578.9 277.5,578 276.8,577.2 275.9,576.4 275,575.7 273.6,574.6 272.6,573.9 271.1,572.9 270,572.3 268.2,571.4 266.4,570.5 264.4,569.7 262.4,568.9 260.9,568.4 258.7,567.7 256.5,567.1 254.9,566.7 253.2,566.3 250.7,565.8 249,565.4 247.3,565.1 245.5,564.8 243.5,564.5 241.5,564.2 239.5,563.9 237.6,563.6 235.7,563.4 233.9,563.2 232,563 230,562.8 227.9,562.6 225.8,562.5 223.9,562.3 222.3,562.2 220.4,562.1 218.2,562 216.2,561.8 214.7,561.8 212.6,561.7 210.3,561.6 208.9,561.5 206.8,561.4 204.6,561.4 203.2,561.3 200.9,561.2 199.1,561.2 197.3,561.2 195,561.1 193.6,561.1 191.1,561 189.6,561 187.4,561 185.7,561 183.6,561 181.8,560.9 179.8,560.9 177.9,560.9 176,560.9 174.1,560.9 172.1,560.9 170.3,560.9 168.2,560.9 166.5,560.9 164.3,560.9 162.8,560.9 160.3,561 158.9,561 156.6,561 154.9,561 152.9,561 150.9,561 149.3,561 146.8,561.1 145.4,561.1 143.2,561.1 141.3,561.1 139.6,561.2 137.2,561.2 135.8,561.2 133.6,561.2 131.6,561.3 130.1,561.3 127.7,561.3 126,561.3 124.2,561.4 121.8,561.4 120.4,561.4 118.3,561.5 116.2,561.5 114.7,561.5 112.5,561.5 110.5,561.6 109,561.6 106.6,561.6 104.7,561.7 103.2,561.7 100.9,561.7 99,561.8 97.4,561.8 95.1,561.8 93.2,561.8 91.6,561.9 89.4,561.9 87.4,561.9 85.9,561.9 85.9,561.9" fill="none" stroke="#f0b020" stroke-width="1.9"/>
<polyline points="237.4,540.8 235.3,541 233.8,541.1 231.8,541.3 229.6,541.5 227.8,541.6 226.2,541.7 224,541.9 221.8,542.1 220.2,542.2 218.5,542.4 216.3,542.6 214.1,542.8 212.5,542.9 210.8,543 208.6,543.2 206.4,543.4 204.8,543.5 203.1,543.6 200.9,543.8 198.7,544 197.1,544.1 195.4,544.3 193.2,544.4 191.1,544.6 189.4,544.7 187.8,544.9 185.6,545 183.4,545.2 181.6,545.3 180,545.5 178,545.6 175.8,545.8 173.8,545.9 172.2,546 170.4,546.2 168.2,546.3 166.1,546.5 164.3,546.6 162.8,546.7 160.7,546.9 158.5,547 156.5,547.2 154.9,547.3 153.1,547.4 151,547.6 148.8,547.7 147,547.8 145.4,547.9 143.4,548.1 141.3,548.2 139.1,548.3 137.5,548.5 135.9,548.6 133.7,548.7 131.6,548.8 129.5,549 127.9,549.1 126.2,549.2 124.1,549.3 121.9,549.4 120,549.5 118.4,549.6 116.6,549.7 115.2,549.8" fill="none" stroke="#f08a20" stroke-width="1.9"/>
<polyline points="207.6,528.5 205.7,528.8 203.7,529.1 201.8,529.4 199.8,529.6 197.9,529.9 195.9,530.2 194,530.4 192,530.7 190.1,531 188.1,531.2 186.2,531.5 184.2,531.7 182.3,532 180.3,532.2 178.3,532.5 176.4,532.7 174.4,533 172.4,533.2 170.5,533.5 168.7,533.7 166.8,533.9 165,534.1 163.2,534.3 161.4,534.5 159.6,534.7 157.6,535 155.6,535.2 153.6,535.4 151.6,535.6 149.6,535.8 148.7,535.9" fill="none" stroke="#e86020" stroke-width="1.9"/>
<polyline points="59,573.1 187.5,639.4 315.4,573" fill="none" stroke="#111" stroke-width="1"/>
<circle cx="57" cy="526.7" r="1.5" fill="#111"/><circle cx="55.7" cy="497.5" r="1.5" fill="#111"/><circle cx="54.4" cy="468.3" r="1.5" fill="#111"/><circle cx="53.1" cy="439.1" r="1.5" fill="#111"/><circle cx="51.9" cy="410" r="1.5" fill="#111"/><circle cx="50.6" cy="380.8" r="1.5" fill="#111"/><circle cx="187.5" cy="639.4" r="1.5" fill="#111"/><circle cx="155.3" cy="622.8" r="1.5" fill="#111"/><circle cx="123.2" cy="606.2" r="1.5" fill="#111"/><circle cx="91.1" cy="589.6" r="1.5" fill="#111"/><circle cx="59" cy="573.1" r="1.5" fill="#111"/><circle cx="219.4" cy="622.8" r="1.5" fill="#111"/><circle cx="251.4" cy="606.2" r="1.5" fill="#111"/><circle cx="283.4" cy="589.6" r="1.5" fill="#111"/><circle cx="315.4" cy="573" r="1.5" fill="#111"/>
<g stroke="#24241a" stroke-width="0.8" stroke-linejoin="round"><polygon points="187.3,376.5 194,374 187.3,370.7 180.5,373.3" fill="#f0642c"/><polygon points="180.5,379.2 187.3,376.5 180.5,373.3 173.7,375.8" fill="#f0662d"/><polygon points="194,379.8 200.8,377.2 194,374 187.3,376.5" fill="#f16b2e"/><polygon points="173.7,381.8 180.5,379.2 173.7,375.8 167,378.4" fill="#f16b2e"/><polygon points="187.2,382.4 194,379.8 187.3,376.5 180.5,379.2" fill="#f16f2f"/><polygon points="200.7,382.9 207.5,380.3 200.8,377.2 194,379.8" fill="#f27330"/><polygon points="167,384.5 173.7,381.8 167,378.4 160.2,381.1" fill="#f1702f"/><polygon points="180.5,385.1 187.2,382.4 180.5,379.2 173.7,381.8" fill="#f27430"/><polygon points="194,385.6 200.7,382.9 194,379.8 187.2,382.4" fill="#f27831"/><polygon points="207.5,386 214.3,383.4 207.5,380.3 200.7,382.9" fill="#f37b32"/><polygon points="160.2,387.2 167,384.5 160.2,381.1 153.4,383.8" fill="#f27530"/><polygon points="173.7,387.8 180.5,385.1 173.7,381.8 167,384.5" fill="#f37931"/><polygon points="187.2,388.3 194,385.6 187.2,382.4 180.5,385.1" fill="#f37d32"/><polygon points="200.7,388.7 207.5,386 200.7,382.9 194,385.6" fill="#f38033"/><polygon points="214.2,389 221,386.4 214.3,383.4 207.5,386" fill="#f48433"/><polygon points="153.4,390 160.2,387.2 153.4,383.8 146.7,386.5" fill="#f37b31"/><polygon points="167,390.5 173.7,387.8 167,384.5 160.2,387.2" fill="#f37e32"/><polygon points="180.5,391 187.2,388.3 180.5,385.1 173.7,387.8" fill="#f38233"/><polygon points="194,391.4 200.7,388.7 194,385.6 187.2,388.3" fill="#f48533"/><polygon points="207.5,391.7 214.2,389 207.5,386 200.7,388.7" fill="#f48834"/><polygon points="221,392 227.7,389.3 221,386.4 214.2,389" fill="#f48b34"/><polygon points="146.7,392.8 153.4,390 146.7,386.5 139.9,389.3" fill="#f38133"/><polygon points="160.2,393.3 167,390.5 160.2,387.2 153.4,390" fill="#f48433"/><polygon points="173.7,393.8 180.5,391 173.7,387.8 167,390.5" fill="#f48834"/><polygon points="187.2,394.2 194,391.4 187.2,388.3 180.5,391" fill="#f48b34"/><polygon points="200.7,394.5 207.5,391.7 200.7,388.7 194,391.4" fill="#f48d35"/><polygon points="214.2,394.7 221,392 214.2,389 207.5,391.7" fill="#f59035"/><polygon points="227.7,394.8 234.4,392.1 227.7,389.3 221,392" fill="#f59336"/><polygon points="140,395.6 146.7,392.8 139.9,389.3 133.2,392.1" fill="#f48734"/><polygon points="153.5,396.2 160.2,393.3 153.4,390 146.7,392.8" fill="#f48b34"/><polygon points="167,396.6 173.7,393.8 167,390.5 160.2,393.3" fill="#f48d35"/><polygon points="180.5,397 187.2,394.2 180.5,391 173.7,393.8" fill="#f59035"/><polygon points="194,397.3 200.7,394.5 194,391.4 187.2,394.2" fill="#f59336"/><polygon points="207.4,397.5 214.2,394.7 207.5,391.7 200.7,394.5" fill="#f59536"/><polygon points="220.9,397.6 227.7,394.8 221,392 214.2,394.7" fill="#f59736"/><polygon points="234.4,397.6 241.2,394.9 234.4,392.1 227.7,394.8" fill="#f59937"/><polygon points="133.2,398.5 140,395.6 133.2,392.1 126.4,395" fill="#f48e35"/><polygon points="146.7,399 153.5,396.2 146.7,392.8 140,395.6" fill="#f59135"/><polygon points="160.2,399.5 167,396.6 160.2,393.3 153.5,396.2" fill="#f59436"/><polygon points="173.7,399.8 180.5,397 173.7,393.8 167,396.6" fill="#f59636"/><polygon points="187.2,400.1 194,397.3 187.2,394.2 180.5,397" fill="#f59836"/><polygon points="200.7,400.3 207.4,397.5 200.7,394.5 194,397.3" fill="#f59a37"/><polygon points="214.2,400.4 220.9,397.6 214.2,394.7 207.4,397.5" fill="#f69c37"/><polygon points="227.7,400.4 234.4,397.6 227.7,394.8 220.9,397.6" fill="#f69e37"/><polygon points="241.1,400.3 247.9,397.6 241.2,394.9 234.4,397.6" fill="#f69f38"/><polygon points="126.5,401.4 133.2,398.5 126.4,395 119.7,397.9" fill="#f59536"/><polygon points="140,402 146.7,399 140,395.6 133.2,398.5" fill="#f59836"/><polygon points="153.5,402.4 160.2,399.5 153.5,396.2 146.7,399" fill="#f59a37"/><polygon points="167,402.7 173.7,399.8 167,396.6 160.2,399.5" fill="#f69c37"/><polygon points="180.5,403 187.2,400.1 180.5,397 173.7,399.8" fill="#f69e37"/><polygon points="194,403.1 200.7,400.3 194,397.3 187.2,400.1" fill="#f6a038"/><polygon points="207.4,403.2 214.2,400.4 207.4,397.5 200.7,400.3" fill="#f6a138"/><polygon points="220.9,403.2 227.7,400.4 220.9,397.6 214.2,400.4" fill="#f6a338"/><polygon points="234.4,403.1 241.1,400.3 234.4,397.6 227.7,400.4" fill="#f6a438"/><polygon points="247.8,403 254.6,400.2 247.9,397.6 241.1,400.3" fill="#f6a538"/><polygon points="119.8,404.4 126.5,401.4 119.7,397.9 113,400.9" fill="#f69c37"/><polygon points="133.3,404.9 140,402 133.2,398.5 126.5,401.4" fill="#f69e37"/><polygon points="146.8,405.3 153.5,402.4 146.7,399 140,402" fill="#f6a038"/><polygon points="160.2,405.6 167,402.7 160.2,399.5 153.5,402.4" fill="#f6a238"/><polygon points="173.7,405.9 180.5,403 173.7,399.8 167,402.7" fill="#f6a438"/><polygon points="187.2,406 194,403.1 187.2,400.1 180.5,403" fill="#f6a539"/><polygon points="200.7,406.1 207.4,403.2 200.7,400.3 194,403.1" fill="#f6a639"/><polygon points="214.2,406.1 220.9,403.2 214.2,400.4 207.4,403.2" fill="#f6a739"/><polygon points="227.6,406 234.4,403.1 227.7,400.4 220.9,403.2" fill="#f6a839"/><polygon points="241.1,405.8 247.8,403 241.1,400.3 234.4,403.1" fill="#f6a939"/><polygon points="254.6,405.5 261.3,402.7 254.6,400.2 247.8,403" fill="#f6a939"/><polygon points="113,407.5 119.8,404.4 113,400.9 106.3,403.9" fill="#f6a338"/><polygon points="126.5,407.9 133.3,404.9 126.5,401.4 119.8,404.4" fill="#f6a539"/><polygon points="140,408.3 146.8,405.3 140,402 133.3,404.9" fill="#f6a739"/><polygon points="153.5,408.6 160.2,405.6 153.5,402.4 146.8,405.3" fill="#f6a839"/><polygon points="167,408.8 173.7,405.9 167,402.7 160.2,405.6" fill="#f6aa39"/><polygon points="180.5,409 187.2,406 180.5,403 173.7,405.9" fill="#f6ab39"/><polygon points="193.9,409 200.7,406.1 194,403.1 187.2,406" fill="#f7ac3a"/><polygon points="207.4,409 214.2,406.1 207.4,403.2 200.7,406.1" fill="#f7ac3a"/><polygon points="220.9,408.9 227.6,406 220.9,403.2 214.2,406.1" fill="#f7ad3a"/><polygon points="234.4,408.7 241.1,405.8 234.4,403.1 227.6,406" fill="#f7ad3a"/><polygon points="247.8,408.4 254.6,405.5 247.8,403 241.1,405.8" fill="#f7ae3a"/><polygon points="261.3,408 268,405.2 261.3,402.7 254.6,405.5" fill="#f7ae3a"/><polygon points="106.3,410.5 113,407.5 106.3,403.9 99.5,406.9" fill="#f6ab39"/><polygon points="119.8,411 126.5,407.9 119.8,404.4 113,407.5" fill="#f7ac3a"/><polygon points="133.3,411.3 140,408.3 133.3,404.9 126.5,407.9" fill="#f7ae3a"/><polygon points="146.8,411.6 153.5,408.6 146.8,405.3 140,408.3" fill="#f7af3a"/><polygon points="160.3,411.8 167,408.8 160.2,405.6 153.5,408.6" fill="#f7b03a"/><polygon points="173.7,412 180.5,409 173.7,405.9 167,408.8" fill="#f7b13a"/><polygon points="187.2,412 193.9,409 187.2,406 180.5,409" fill="#f7b13b"/><polygon points="200.7,411.9 207.4,409 200.7,406.1 193.9,409" fill="#f7b23b"/><polygon points="214.1,411.8 220.9,408.9 214.2,406.1 207.4,409" fill="#f7b23b"/><polygon points="227.6,411.6 234.4,408.7 227.6,406 220.9,408.9" fill="#f7b23b"/><polygon points="241.1,411.2 247.8,408.4 241.1,405.8 234.4,408.7" fill="#f7b23b"/><polygon points="254.5,410.9 261.3,408 254.6,405.5 247.8,408.4" fill="#f7b23b"/><polygon points="268,410.4 274.7,407.5 268,405.2 261.3,408" fill="#f7b13b"/><polygon points="99.6,413.6 106.3,410.5 99.5,406.9 92.8,410" fill="#f7b23b"/><polygon points="113.1,414.1 119.8,411 113,407.5 106.3,410.5" fill="#f7b43b"/><polygon points="126.6,414.4 133.3,411.3 126.5,407.9 119.8,411" fill="#f7b53b"/><polygon points="140.1,414.7 146.8,411.6 140,408.3 133.3,411.3" fill="#f7b63b"/><polygon points="153.5,414.9 160.3,411.8 153.5,408.6 146.8,411.6" fill="#f7b63b"/><polygon points="167,415 173.7,412 167,408.8 160.3,411.8" fill="#f7b73b"/><polygon points="180.5,415 187.2,412 180.5,409 173.7,412" fill="#f7b73c"/><polygon points="193.9,414.9 200.7,411.9 193.9,409 187.2,412" fill="#f7b73c"/><polygon points="207.4,414.8 214.1,411.8 207.4,409 200.7,411.9" fill="#f7b73c"/><polygon points="220.9,414.5 227.6,411.6 220.9,408.9 214.1,411.8" fill="#f7b73b"/><polygon points="234.3,414.2 241.1,411.2 234.4,408.7 227.6,411.6" fill="#f7b73b"/><polygon points="247.8,413.8 254.5,410.9 247.8,408.4 241.1,411.2" fill="#f7b63b"/><polygon points="261.3,413.3 268,410.4 261.3,408 254.5,410.9" fill="#f7b53b"/><polygon points="274.7,412.7 281.5,409.8 274.7,407.5 268,410.4" fill="#f7b43b"/><polygon points="92.9,416.8 99.6,413.6 92.8,410 86.1,413.1" fill="#f7ba3c"/><polygon points="106.4,417.2 113.1,414.1 106.3,410.5 99.6,413.6" fill="#f7bb3c"/><polygon points="119.9,417.5 126.6,414.4 119.8,411 113.1,414.1" fill="#f7bc3c"/><polygon points="133.3,417.8 140.1,414.7 133.3,411.3 126.6,414.4" fill="#f7bc3c"/><polygon points="146.8,418 153.5,414.9 146.8,411.6 140.1,414.7" fill="#f7bd3c"/><polygon points="160.3,418 167,415 160.3,411.8 153.5,414.9" fill="#f8bd3d"/><polygon points="173.8,418 180.5,415 173.7,412 167,415" fill="#f8bd3d"/><polygon points="187.2,417.9 193.9,414.9 187.2,412 180.5,415" fill="#f7bd3c"/><polygon points="200.7,417.8 207.4,414.8 200.7,411.9 193.9,414.9" fill="#f7bd3c"/><polygon points="214.1,417.5 220.9,414.5 214.1,411.8 207.4,414.8" fill="#f7bc3c"/><polygon points="227.6,417.1 234.3,414.2 227.6,411.6 220.9,414.5" fill="#f7bb3c"/><polygon points="241.1,416.7 247.8,413.8 241.1,411.2 234.3,414.2" fill="#f7ba3c"/><polygon points="254.5,416.2 261.3,413.3 254.5,410.9 247.8,413.8" fill="#f7b93c"/><polygon points="268,415.6 274.7,412.7 268,410.4 261.3,413.3" fill="#f7b83c"/><polygon points="281.4,414.9 288.2,412 281.5,409.8 274.7,412.7" fill="#f7b73b"/><polygon points="86.2,420 92.9,416.8 86.1,413.1 79.4,416.3" fill="#f8c23d"/><polygon points="99.7,420.4 106.4,417.2 99.6,413.6 92.9,416.8" fill="#f8c33d"/><polygon points="113.2,420.7 119.9,417.5 113.1,414.1 106.4,417.2" fill="#f8c33e"/><polygon points="126.6,421 133.3,417.8 126.6,414.4 119.9,417.5" fill="#f8c43e"/><polygon points="140.1,421.1 146.8,418 140.1,414.7 133.3,417.8" fill="#f8c43e"/><polygon points="153.6,421.2 160.3,418 153.5,414.9 146.8,418" fill="#f8c43e"/><polygon points="167,421.1 173.8,418 167,415 160.3,418" fill="#f8c33e"/><polygon points="180.5,421 187.2,417.9 180.5,415 173.8,418" fill="#f8c33d"/><polygon points="193.9,420.8 200.7,417.8 193.9,414.9 187.2,417.9" fill="#f8c23d"/><polygon points="207.4,420.5 214.1,417.5 207.4,414.8 200.7,417.8" fill="#f8c13d"/><polygon points="220.9,420.2 227.6,417.1 220.9,414.5 214.1,417.5" fill="#f8c03d"/><polygon points="234.3,419.7 241.1,416.7 234.3,414.2 227.6,417.1" fill="#f8bf3d"/><polygon points="247.8,419.2 254.5,416.2 247.8,413.8 241.1,416.7" fill="#f8be3d"/><polygon points="261.2,418.5 268,415.6 261.3,413.3 254.5,416.2" fill="#f7bc3c"/><polygon points="274.7,417.8 281.4,414.9 274.7,412.7 268,415.6" fill="#f7ba3c"/><polygon points="288.2,417 294.9,414.1 288.2,412 281.4,414.9" fill="#f7b83c"/><polygon points="79.5,423.2 86.2,420 79.4,416.3 72.7,419.5" fill="#f8cb3f"/><polygon points="93,423.6 99.7,420.4 92.9,416.8 86.2,420" fill="#f8cb3f"/><polygon points="106.5,423.9 113.2,420.7 106.4,417.2 99.7,420.4" fill="#f8cb3f"/><polygon points="119.9,424.1 126.6,421 119.9,417.5 113.2,420.7" fill="#f8cb3f"/><polygon points="133.4,424.3 140.1,421.1 133.3,417.8 126.6,421" fill="#f8cb3f"/><polygon points="146.9,424.3 153.6,421.2 146.8,418 140.1,421.1" fill="#f8cb3f"/><polygon points="160.3,424.3 167,421.1 160.3,418 153.6,421.2" fill="#f8ca3f"/><polygon points="173.8,424.1 180.5,421 173.8,418 167,421.1" fill="#f8c93e"/><polygon points="187.2,423.9 193.9,420.8 187.2,417.9 180.5,421" fill="#f8c83e"/><polygon points="200.7,423.6 207.4,420.5 200.7,417.8 193.9,420.8" fill="#f8c73e"/><polygon points="214.1,423.2 220.9,420.2 214.1,417.5 207.4,420.5" fill="#f8c63e"/><polygon points="227.6,422.7 234.3,419.7 227.6,417.1 220.9,420.2" fill="#f8c43e"/><polygon points="241,422.2 247.8,419.2 241.1,416.7 234.3,419.7" fill="#f8c23d"/><polygon points="254.5,421.5 261.2,418.5 254.5,416.2 247.8,419.2" fill="#f8c03d"/><polygon points="268,420.8 274.7,417.8 268,415.6 261.2,418.5" fill="#f8be3d"/><polygon points="281.4,420 288.2,417 281.4,414.9 274.7,417.8" fill="#f7bc3c"/><polygon points="294.9,419 301.6,416.1 294.9,414.1 288.2,417" fill="#f7ba3c"/><polygon points="72.8,426.5 79.5,423.2 72.7,419.5 66.1,422.8" fill="#f8d440"/><polygon points="86.3,426.9 93,423.6 86.2,420 79.5,423.2" fill="#f8d440"/><polygon points="99.8,427.2 106.5,423.9 99.7,420.4 93,423.6" fill="#f8d440"/><polygon points="113.2,427.4 119.9,424.1 113.2,420.7 106.5,423.9" fill="#f8d440"/><polygon points="126.7,427.5 133.4,424.3 126.6,421 119.9,424.1" fill="#f8d340"/><polygon points="140.1,427.5 146.9,424.3 140.1,421.1 133.4,424.3" fill="#f8d240"/><polygon points="153.6,427.4 160.3,424.3 153.6,421.2 146.9,424.3" fill="#f8d140"/><polygon points="167,427.3 173.8,424.1 167,421.1 160.3,424.3" fill="#f8d03f"/><polygon points="180.5,427.1 187.2,423.9 180.5,421 173.8,424.1" fill="#f8cf3f"/><polygon points="193.9,426.7 200.7,423.6 193.9,420.8 187.2,423.9" fill="#f8cd3f"/><polygon points="207.4,426.3 214.1,423.2 207.4,420.5 200.7,423.6" fill="#f8cc3f"/><polygon points="220.9,425.8 227.6,422.7 220.9,420.2 214.1,423.2" fill="#f8ca3e"/><polygon points="234.3,425.2 241,422.2 234.3,419.7 227.6,422.7" fill="#f8c73e"/><polygon points="247.8,424.6 254.5,421.5 247.8,419.2 241,422.2" fill="#f8c53e"/><polygon points="261.2,423.8 268,420.8 261.2,418.5 254.5,421.5" fill="#f8c33d"/><polygon points="274.7,422.9 281.4,420 274.7,417.8 268,420.8" fill="#f8c03d"/><polygon points="288.1,422 294.9,419 288.2,417 281.4,420" fill="#f8bd3d"/><polygon points="301.6,421 308.3,418.1 301.6,416.1 294.9,419" fill="#f7ba3c"/><polygon points="66.2,429.9 72.8,426.5 66.1,422.8 59.4,426.1" fill="#f8de41"/><polygon points="79.6,430.2 86.3,426.9 79.5,423.2 72.8,426.5" fill="#f8dd41"/><polygon points="93.1,430.5 99.8,427.2 93,423.6 86.3,426.9" fill="#f8dd41"/><polygon points="106.5,430.7 113.2,427.4 106.5,423.9 99.8,427.2" fill="#f8dc41"/><polygon points="120,430.8 126.7,427.5 119.9,424.1 113.2,427.4" fill="#f8db41"/><polygon points="133.4,430.8 140.1,427.5 133.4,424.3 126.7,427.5" fill="#f8da41"/><polygon points="146.9,430.7 153.6,427.4 146.9,424.3 140.1,427.5" fill="#f8d941"/><polygon points="160.3,430.5 167,427.3 160.3,424.3 153.6,427.4" fill="#f8d740"/><polygon points="173.8,430.2 180.5,427.1 173.8,424.1 167,427.3" fill="#f8d640"/><polygon points="187.2,429.9 193.9,426.7 187.2,423.9 180.5,427.1" fill="#f8d440"/><polygon points="200.7,429.5 207.4,426.3 200.7,423.6 193.9,426.7" fill="#f8d240"/><polygon points="214.1,428.9 220.9,425.8 214.1,423.2 207.4,426.3" fill="#f8cf3f"/><polygon points="227.6,428.3 234.3,425.2 227.6,422.7 220.9,425.8" fill="#f8cd3f"/><polygon points="241,427.6 247.8,424.6 241,422.2 234.3,425.2" fill="#f8ca3f"/><polygon points="254.5,426.8 261.2,423.8 254.5,421.5 247.8,424.6" fill="#f8c73e"/><polygon points="267.9,426 274.7,422.9 268,420.8 261.2,423.8" fill="#f8c43e"/><polygon points="281.4,425 288.1,422 281.4,420 274.7,422.9" fill="#f8c13d"/><polygon points="294.9,424 301.6,421 294.9,419 288.1,422" fill="#f8be3d"/><polygon points="308.3,422.8 315.1,419.9 308.3,418.1 301.6,421" fill="#f7bb3c"/><polygon points="59.5,433.3 66.2,429.9 59.4,426.1 52.7,429.5" fill="#f7e542"/><polygon points="73,433.6 79.6,430.2 72.8,426.5 66.2,429.9" fill="#f7e542"/><polygon points="86.4,433.9 93.1,430.5 86.3,426.9 79.6,430.2" fill="#f8e542"/><polygon points="99.9,434 106.5,430.7 99.8,427.2 93.1,430.5" fill="#f8e442"/><polygon points="113.3,434.1 120,430.8 113.2,427.4 106.5,430.7" fill="#f8e442"/><polygon points="126.7,434.1 133.4,430.8 126.7,427.5 120,430.8" fill="#f8e242"/><polygon points="140.2,434 146.9,430.7 140.1,427.5 133.4,430.8" fill="#f8e142"/><polygon points="153.6,433.8 160.3,430.5 153.6,427.4 146.9,430.7" fill="#f8df41"/><polygon points="167.1,433.5 173.8,430.2 167,427.3 160.3,430.5" fill="#f8dd41"/><polygon points="180.5,433.1 187.2,429.9 180.5,427.1 173.8,430.2" fill="#f8db41"/><polygon points="194,432.6 200.7,429.5 193.9,426.7 187.2,429.9" fill="#f8d840"/><polygon points="207.4,432.1 214.1,428.9 207.4,426.3 200.7,429.5" fill="#f8d640"/><polygon points="220.9,431.5 227.6,428.3 220.9,425.8 214.1,428.9" fill="#f8d340"/><polygon points="234.3,430.7 241,427.6 234.3,425.2 227.6,428.3" fill="#f8d03f"/><polygon points="247.8,429.9 254.5,426.8 247.8,424.6 241,427.6" fill="#f8cc3f"/><polygon points="261.2,429 267.9,426 261.2,423.8 254.5,426.8" fill="#f8c93e"/><polygon points="274.7,428.1 281.4,425 274.7,422.9 267.9,426" fill="#f8c53e"/><polygon points="288.1,427 294.9,424 288.1,422 281.4,425" fill="#f8c23d"/><polygon points="301.6,425.8 308.3,422.8 301.6,421 294.9,424" fill="#f8be3d"/><polygon points="315.1,424.6 321.8,421.6 315.1,419.9 308.3,422.8" fill="#f7ba3c"/><polygon points="66.3,437 73,433.6 66.2,429.9 59.5,433.3" fill="#f5e942"/><polygon points="79.7,437.3 86.4,433.9 79.6,430.2 73,433.6" fill="#f6e942"/><polygon points="93.2,437.4 99.9,434 93.1,430.5 86.4,433.9" fill="#f6e842"/><polygon points="106.6,437.4 113.3,434.1 106.5,430.7 99.9,434" fill="#f6e842"/><polygon points="120,437.4 126.7,434.1 120,430.8 113.3,434.1" fill="#f7e742"/><polygon points="133.5,437.3 140.2,434 133.4,430.8 126.7,434.1" fill="#f7e642"/><polygon points="146.9,437.1 153.6,433.8 146.9,430.7 140.2,434" fill="#f7e542"/><polygon points="160.4,436.7 167.1,433.5 160.3,430.5 153.6,433.8" fill="#f8e442"/><polygon points="173.8,436.4 180.5,433.1 173.8,430.2 167.1,433.5" fill="#f8e242"/><polygon points="187.2,435.9 194,432.6 187.2,429.9 180.5,433.1" fill="#f8df41"/><polygon points="200.7,435.3 207.4,432.1 200.7,429.5 194,432.6" fill="#f8dc41"/><polygon points="214.1,434.6 220.9,431.5 214.1,428.9 207.4,432.1" fill="#f8d941"/><polygon points="227.6,433.9 234.3,430.7 227.6,428.3 220.9,431.5" fill="#f8d540"/><polygon points="241,433.1 247.8,429.9 241,427.6 234.3,430.7" fill="#f8d240"/><polygon points="254.5,432.2 261.2,429 254.5,426.8 247.8,429.9" fill="#f8ce3f"/><polygon points="267.9,431.2 274.7,428.1 267.9,426 261.2,429" fill="#f8ca3f"/><polygon points="281.4,430.1 288.1,427 281.4,425 274.7,428.1" fill="#f8c63e"/><polygon points="294.9,428.9 301.6,425.8 294.9,424 288.1,427" fill="#f8c23d"/><polygon points="308.3,427.6 315.1,424.6 308.3,422.8 301.6,425.8" fill="#f8be3d"/><polygon points="73.1,440.7 79.7,437.3 73,433.6 66.3,437" fill="#f4ed41"/><polygon points="86.5,440.8 93.2,437.4 86.4,433.9 79.7,437.3" fill="#f4ec42"/><polygon points="99.9,440.9 106.6,437.4 99.9,434 93.2,437.4" fill="#f5eb42"/><polygon points="113.4,440.8 120,437.4 113.3,434.1 106.6,437.4" fill="#f5eb42"/><polygon points="126.8,440.6 133.5,437.3 126.7,434.1 120,437.4" fill="#f5ea42"/><polygon points="140.2,440.4 146.9,437.1 140.2,434 133.5,437.3" fill="#f6e942"/><polygon points="153.7,440.1 160.4,436.7 153.6,433.8 146.9,437.1" fill="#f6e742"/><polygon points="167.1,439.7 173.8,436.4 167.1,433.5 160.4,436.7" fill="#f7e642"/><polygon points="180.5,439.2 187.2,435.9 180.5,433.1 173.8,436.4" fill="#f8e542"/><polygon points="194,438.6 200.7,435.3 194,432.6 187.2,435.9" fill="#f8e342"/><polygon points="207.4,437.9 214.1,434.6 207.4,432.1 200.7,435.3" fill="#f8df41"/><polygon points="220.9,437.1 227.6,433.9 220.9,431.5 214.1,434.6" fill="#f8db41"/><polygon points="234.3,436.3 241,433.1 234.3,430.7 227.6,433.9" fill="#f8d740"/><polygon points="247.7,435.3 254.5,432.2 247.8,429.9 241,433.1" fill="#f8d340"/><polygon points="261.2,434.3 267.9,431.2 261.2,429 254.5,432.2" fill="#f8cf3f"/><polygon points="274.7,433.2 281.4,430.1 274.7,428.1 267.9,431.2" fill="#f8ca3f"/><polygon points="288.1,432 294.9,428.9 288.1,427 281.4,430.1" fill="#f8c63e"/><polygon points="301.6,430.7 308.3,427.6 301.6,425.8 294.9,428.9" fill="#f8c13d"/><polygon points="79.8,444.3 86.5,440.8 79.7,437.3 73.1,440.7" fill="#f2f041"/><polygon points="93.3,444.3 99.9,440.9 93.2,437.4 86.5,440.8" fill="#f3ef41"/><polygon points="106.7,444.2 113.4,440.8 106.6,437.4 99.9,440.9" fill="#f3ee41"/><polygon points="120.1,444.1 126.8,440.6 120,437.4 113.4,440.8" fill="#f4ed41"/><polygon points="133.5,443.8 140.2,440.4 133.5,437.3 126.8,440.6" fill="#f4ec42"/><polygon points="147,443.4 153.7,440.1 146.9,437.1 140.2,440.4" fill="#f5eb42"/><polygon points="160.4,443 167.1,439.7 160.4,436.7 153.7,440.1" fill="#f5e942"/><polygon points="173.8,442.5 180.5,439.2 173.8,436.4 167.1,439.7" fill="#f6e842"/><polygon points="187.3,441.9 194,438.6 187.2,435.9 180.5,439.2" fill="#f7e642"/><polygon points="200.7,441.2 207.4,437.9 200.7,435.3 194,438.6" fill="#f8e542"/><polygon points="214.1,440.4 220.9,437.1 214.1,434.6 207.4,437.9" fill="#f8e242"/><polygon points="227.6,439.5 234.3,436.3 227.6,433.9 220.9,437.1" fill="#f8dd41"/><polygon points="241,438.5 247.7,435.3 241,433.1 234.3,436.3" fill="#f8d941"/><polygon points="254.5,437.5 261.2,434.3 254.5,432.2 247.7,435.3" fill="#f8d440"/><polygon points="267.9,436.3 274.7,433.2 267.9,431.2 261.2,434.3" fill="#f8cf3f"/><polygon points="281.4,435.1 288.1,432 281.4,430.1 274.7,433.2" fill="#f8ca3f"/><polygon points="294.9,433.8 301.6,430.7 294.9,428.9 288.1,432" fill="#f8c53e"/><polygon points="86.6,447.8 93.3,444.3 86.5,440.8 79.8,444.3" fill="#f1f341"/><polygon points="100,447.7 106.7,444.2 99.9,440.9 93.3,444.3" fill="#f1f241"/><polygon points="113.4,447.5 120.1,444.1 113.4,440.8 106.7,444.2" fill="#f2f141"/><polygon points="126.8,447.2 133.5,443.8 126.8,440.6 120.1,444.1" fill="#f3f041"/><polygon points="140.3,446.9 147,443.4 140.2,440.4 133.5,443.8" fill="#f3ee41"/><polygon points="153.7,446.4 160.4,443 153.7,440.1 147,443.4" fill="#f4ed41"/><polygon points="167.1,445.8 173.8,442.5 167.1,439.7 160.4,443" fill="#f5eb42"/><polygon points="180.5,445.2 187.3,441.9 180.5,439.2 173.8,442.5" fill="#f5e942"/><polygon points="194,444.5 200.7,441.2 194,438.6 187.3,441.9" fill="#f6e842"/><polygon points="207.4,443.7 214.1,440.4 207.4,437.9 200.7,441.2" fill="#f7e642"/><polygon points="220.9,442.8 227.6,439.5 220.9,437.1 214.1,440.4" fill="#f8e342"/><polygon points="234.3,441.8 241,438.5 234.3,436.3 227.6,439.5" fill="#f8df41"/><polygon points="247.7,440.7 254.5,437.5 247.7,435.3 241,438.5" fill="#f8da41"/><polygon points="261.2,439.5 267.9,436.3 261.2,434.3 254.5,437.5" fill="#f8d440"/><polygon points="274.7,438.3 281.4,435.1 274.7,433.2 267.9,436.3" fill="#f8cf3f"/><polygon points="288.1,436.9 294.9,433.8 288.1,432 281.4,435.1" fill="#f8c93e"/><polygon points="93.3,451.2 100,447.7 93.3,444.3 86.6,447.8" fill="#eef541"/><polygon points="106.8,451 113.4,447.5 106.7,444.2 100,447.7" fill="#f0f541"/><polygon points="120.2,450.7 126.8,447.2 120.1,444.1 113.4,447.5" fill="#f1f341"/><polygon points="133.6,450.3 140.3,446.9 133.5,443.8 126.8,447.2" fill="#f2f241"/><polygon points="147,449.8 153.7,446.4 147,443.4 140.3,446.9" fill="#f2f041"/><polygon points="160.4,449.3 167.1,445.8 160.4,443 153.7,446.4" fill="#f3ee41"/><polygon points="173.8,448.6 180.5,445.2 173.8,442.5 167.1,445.8" fill="#f4ec42"/><polygon points="187.3,447.8 194,444.5 187.3,441.9 180.5,445.2" fill="#f5eb42"/><polygon points="200.7,447 207.4,443.7 200.7,441.2 194,444.5" fill="#f6e942"/><polygon points="214.1,446.1 220.9,442.8 214.1,440.4 207.4,443.7" fill="#f7e642"/><polygon points="227.6,445 234.3,441.8 227.6,439.5 220.9,442.8" fill="#f8e442"/><polygon points="241,443.9 247.7,440.7 241,438.5 234.3,441.8" fill="#f8df41"/><polygon points="254.5,442.7 261.2,439.5 254.5,437.5 247.7,440.7" fill="#f8da41"/><polygon points="267.9,441.5 274.7,438.3 267.9,436.3 261.2,439.5" fill="#f8d440"/><polygon points="281.4,440.1 288.1,436.9 281.4,435.1 274.7,438.3" fill="#f8ce3f"/><polygon points="100.1,454.6 106.8,451 100,447.7 93.3,451.2" fill="#ebf640"/><polygon points="113.5,454.3 120.2,450.7 113.4,447.5 106.8,451" fill="#edf540"/><polygon points="126.9,453.8 133.6,450.3 126.8,447.2 120.2,450.7" fill="#f0f541"/><polygon points="140.3,453.3 147,449.8 140.3,446.9 133.6,450.3" fill="#f1f341"/><polygon points="153.7,452.7 160.4,449.3 153.7,446.4 147,449.8" fill="#f2f241"/><polygon points="167.1,452 173.8,448.6 167.1,445.8 160.4,449.3" fill="#f3f041"/><polygon points="180.6,451.3 187.3,447.8 180.5,445.2 173.8,448.6" fill="#f3ee41"/><polygon points="194,450.4 200.7,447 194,444.5 187.3,447.8" fill="#f4eb42"/><polygon points="207.4,449.4 214.1,446.1 207.4,443.7 200.7,447" fill="#f6e942"/><polygon points="220.9,448.4 227.6,445 220.9,442.8 214.1,446.1" fill="#f7e742"/><polygon points="234.3,447.2 241,443.9 234.3,441.8 227.6,445" fill="#f8e442"/><polygon points="247.7,446 254.5,442.7 247.7,440.7 241,443.9" fill="#f8df41"/><polygon points="261.2,444.7 267.9,441.5 261.2,439.5 254.5,442.7" fill="#f8d941"/><polygon points="274.7,443.3 281.4,440.1 274.7,438.3 267.9,441.5" fill="#f8d340"/><polygon points="106.8,457.8 113.5,454.3 106.8,451 100.1,454.6" fill="#e8f63f"/><polygon points="120.2,457.4 126.9,453.8 120.2,450.7 113.5,454.3" fill="#eaf640"/><polygon points="133.6,456.9 140.3,453.3 133.6,450.3 126.9,453.8" fill="#edf540"/><polygon points="147,456.2 153.7,452.7 147,449.8 140.3,453.3" fill="#f0f541"/><polygon points="160.5,455.5 167.1,452 160.4,449.3 153.7,452.7" fill="#f1f341"/><polygon points="173.9,454.7 180.6,451.3 173.8,448.6 167.1,452" fill="#f2f141"/><polygon points="187.3,453.8 194,450.4 187.3,447.8 180.6,451.3" fill="#f3ee41"/><polygon points="200.7,452.8 207.4,449.4 200.7,447 194,450.4" fill="#f4ec42"/><polygon points="214.1,451.8 220.9,448.4 214.1,446.1 207.4,449.4" fill="#f5ea42"/><polygon points="227.6,450.6 234.3,447.2 227.6,445 220.9,448.4" fill="#f7e742"/><polygon points="241,449.4 247.7,446 241,443.9 234.3,447.2" fill="#f8e442"/><polygon points="254.5,448 261.2,444.7 254.5,442.7 247.7,446" fill="#f8df41"/><polygon points="267.9,446.6 274.7,443.3 267.9,441.5 261.2,444.7" fill="#f8d840"/><polygon points="113.6,461 120.2,457.4 113.5,454.3 106.8,457.8" fill="#e5f63f"/><polygon points="127,460.4 133.6,456.9 126.9,453.8 120.2,457.4" fill="#e8f63f"/><polygon points="140.4,459.8 147,456.2 140.3,453.3 133.6,456.9" fill="#ebf640"/><polygon points="153.8,459.1 160.5,455.5 153.7,452.7 147,456.2" fill="#eef541"/><polygon points="167.2,458.2 173.9,454.7 167.1,452 160.5,455.5" fill="#f0f441"/><polygon points="180.6,457.3 187.3,453.8 180.6,451.3 173.9,454.7" fill="#f2f241"/><polygon points="194,456.3 200.7,452.8 194,450.4 187.3,453.8" fill="#f3ef41"/><polygon points="207.4,455.2 214.1,451.8 207.4,449.4 200.7,452.8" fill="#f4ec42"/><polygon points="220.9,454 227.6,450.6 220.9,448.4 214.1,451.8" fill="#f5ea42"/><polygon points="234.3,452.7 241,449.4 234.3,447.2 227.6,450.6" fill="#f7e742"/><polygon points="247.8,451.4 254.5,448 247.7,446 241,449.4" fill="#f8e442"/><polygon points="261.2,449.9 267.9,446.6 261.2,444.7 254.5,448" fill="#f8dd41"/><polygon points="120.3,464.1 127,460.4 120.2,457.4 113.6,461" fill="#e3f73e"/><polygon points="133.7,463.4 140.4,459.8 133.6,456.9 127,460.4" fill="#e6f63f"/><polygon points="147.1,462.6 153.8,459.1 147,456.2 140.4,459.8" fill="#e9f640"/><polygon points="160.5,461.8 167.2,458.2 160.5,455.5 153.8,459.1" fill="#edf540"/><polygon points="173.9,460.8 180.6,457.3 173.9,454.7 167.2,458.2" fill="#f0f541"/><polygon points="187.3,459.8 194,456.3 187.3,453.8 180.6,457.3" fill="#f1f241"/><polygon points="200.7,458.7 207.4,455.2 200.7,452.8 194,456.3" fill="#f3ef41"/><polygon points="214.2,457.4 220.9,454 214.1,451.8 207.4,455.2" fill="#f4ed41"/><polygon points="227.6,456.1 234.3,452.7 227.6,450.6 220.9,454" fill="#f5ea42"/><polygon points="241,454.7 247.8,451.4 241,449.4 234.3,452.7" fill="#f7e742"/><polygon points="254.5,453.3 261.2,449.9 254.5,448 247.8,451.4" fill="#f8e342"/><polygon points="127,467.1 133.7,463.4 127,460.4 120.3,464.1" fill="#e0f73e"/><polygon points="140.4,466.3 147.1,462.6 140.4,459.8 133.7,463.4" fill="#e4f63f"/><polygon points="153.8,465.4 160.5,461.8 153.8,459.1 147.1,462.6" fill="#e8f63f"/><polygon points="167.2,464.4 173.9,460.8 167.2,458.2 160.5,461.8" fill="#ecf640"/><polygon points="180.6,463.3 187.3,459.8 180.6,457.3 173.9,460.8" fill="#f0f541"/><polygon points="194,462.2 200.7,458.7 194,456.3 187.3,459.8" fill="#f1f241"/><polygon points="207.5,460.9 214.2,457.4 207.4,455.2 200.7,458.7" fill="#f3ef41"/><polygon points="220.9,459.6 227.6,456.1 220.9,454 214.2,457.4" fill="#f4ec42"/><polygon points="234.3,458.2 241,454.7 234.3,452.7 227.6,456.1" fill="#f6e942"/><polygon points="247.8,456.7 254.5,453.3 247.8,451.4 241,454.7" fill="#f7e642"/><polygon points="133.7,470 140.4,466.3 133.7,463.4 127,467.1" fill="#dff73d"/><polygon points="147.1,469 153.8,465.4 147.1,462.6 140.4,466.3" fill="#e3f73e"/><polygon points="160.5,468 167.2,464.4 160.5,461.8 153.8,465.4" fill="#e7f63f"/><polygon points="173.9,466.9 180.6,463.3 173.9,460.8 167.2,464.4" fill="#ebf640"/><polygon points="187.3,465.8 194,462.2 187.3,459.8 180.6,463.3" fill="#eff541"/><polygon points="200.8,464.5 207.5,460.9 200.7,458.7 194,462.2" fill="#f1f241"/><polygon points="214.2,463.1 220.9,459.6 214.2,457.4 207.5,460.9" fill="#f3ef41"/><polygon points="227.6,461.7 234.3,458.2 227.6,456.1 220.9,459.6" fill="#f4ec42"/><polygon points="241,460.1 247.8,456.7 241,454.7 234.3,458.2" fill="#f6e942"/><polygon points="140.5,472.7 147.1,469 140.4,466.3 133.7,470" fill="#def73d"/><polygon points="153.8,471.7 160.5,468 153.8,465.4 147.1,469" fill="#e2f73e"/><polygon points="167.2,470.6 173.9,466.9 167.2,464.4 160.5,468" fill="#e6f63f"/><polygon points="180.6,469.4 187.3,465.8 180.6,463.3 173.9,466.9" fill="#ebf640"/><polygon points="194.1,468.1 200.8,464.5 194,462.2 187.3,465.8" fill="#eff541"/><polygon points="207.5,466.7 214.2,463.1 207.5,460.9 200.8,464.5" fill="#f1f241"/><polygon points="220.9,465.2 227.6,461.7 220.9,459.6 214.2,463.1" fill="#f3ef41"/><polygon points="234.3,463.6 241,460.1 234.3,458.2 227.6,461.7" fill="#f5eb42"/><polygon points="147.2,475.4 153.8,471.7 147.1,469 140.5,472.7" fill="#ddf73d"/><polygon points="160.6,474.3 167.2,470.6 160.5,468 153.8,471.7" fill="#e1f73e"/><polygon points="174,473 180.6,469.4 173.9,466.9 167.2,470.6" fill="#e6f63f"/><polygon points="187.4,471.7 194.1,468.1 187.3,465.8 180.6,469.4" fill="#ebf640"/><polygon points="200.8,470.3 207.5,466.7 200.8,464.5 194.1,468.1" fill="#f0f541"/><polygon points="214.2,468.8 220.9,465.2 214.2,463.1 207.5,466.7" fill="#f2f241"/><polygon points="227.6,467.2 234.3,463.6 227.6,461.7 220.9,465.2" fill="#f3ee41"/><polygon points="153.9,478 160.6,474.3 153.8,471.7 147.2,475.4" fill="#dcf73d"/><polygon points="167.3,476.8 174,473 167.2,470.6 160.6,474.3" fill="#e1f73e"/><polygon points="180.7,475.4 187.4,471.7 180.6,469.4 174,473" fill="#e6f63f"/><polygon points="194.1,473.9 200.8,470.3 194.1,468.1 187.4,471.7" fill="#ebf640"/><polygon points="207.5,472.4 214.2,468.8 207.5,466.7 200.8,470.3" fill="#f0f541"/><polygon points="220.9,470.8 227.6,467.2 220.9,465.2 214.2,468.8" fill="#f2f141"/><polygon points="160.6,480.5 167.3,476.8 160.6,474.3 153.9,478" fill="#dcf73d"/><polygon points="174,479.1 180.7,475.4 174,473 167.3,476.8" fill="#e1f73e"/><polygon points="187.4,477.6 194.1,473.9 187.4,471.7 180.7,475.4" fill="#e7f63f"/><polygon points="200.8,476.1 207.5,472.4 200.8,470.3 194.1,473.9" fill="#ecf640"/><polygon points="214.2,474.4 220.9,470.8 214.2,468.8 207.5,472.4" fill="#f1f441"/><polygon points="167.3,482.9 174,479.1 167.3,476.8 160.6,480.5" fill="#dcf73d"/><polygon points="180.7,481.4 187.4,477.6 180.7,475.4 174,479.1" fill="#e2f73e"/><polygon points="194.1,479.8 200.8,476.1 194.1,473.9 187.4,477.6" fill="#e7f63f"/><polygon points="207.5,478.1 214.2,474.4 207.5,472.4 200.8,476.1" fill="#edf540"/><polygon points="174,485.2 180.7,481.4 174,479.1 167.3,482.9" fill="#ddf73d"/><polygon points="187.4,483.6 194.1,479.8 187.4,477.6 180.7,481.4" fill="#e3f73e"/><polygon points="200.8,481.8 207.5,478.1 200.8,476.1 194.1,479.8" fill="#e9f63f"/><polygon points="180.7,487.4 187.4,483.6 180.7,481.4 174,485.2" fill="#def73d"/><polygon points="194.1,485.6 200.8,481.8 194.1,479.8 187.4,483.6" fill="#e4f63f"/><polygon points="187.5,489.5 194.1,485.6 187.4,483.6 180.7,487.4" fill="#dff73e"/></g>
<line x1="187.2" y1="402.1" x2="187.2" y2="425.8" stroke="#5a1010" stroke-width="0.8"/>
<line x1="259.6" y1="435.2" x2="259.6" y2="449" stroke="#5a1010" stroke-width="0.8"/>
<circle cx="123.5" cy="393.3" r="2.45" fill="#c80000" stroke="#600000" stroke-width="0.6"/>
<circle cx="115.3" cy="459.2" r="2.45" fill="#c80000" stroke="#600000" stroke-width="0.6"/>
<circle cx="187.2" cy="402.1" r="2.45" fill="#c80000" stroke="#600000" stroke-width="0.6"/>
<circle cx="187.2" cy="415.1" r="2.45" fill="#c80000" stroke="#600000" stroke-width="0.6"/>
<circle cx="187.2" cy="420.1" r="2.45" fill="#c80000" stroke="#600000" stroke-width="0.6"/>
<circle cx="187.2" cy="425.8" r="2.45" fill="#c80000" stroke="#600000" stroke-width="0.6"/>
<circle cx="259.6" cy="435.2" r="2.45" fill="#c80000" stroke="#600000" stroke-width="0.6"/>
<text x="26.7" y="523.5" font-family="'Liberation Sans', sans-serif" font-size="10.5" fill="#3c3c3c" stroke="#3c3c3c" stroke-width="0.22" textLength="24.3" lengthAdjust="spacingAndGlyphs">42.00</text>
<text x="25.4" y="494.3" font-family="'Liberation Sans', sans-serif" font-size="10.5" fill="#3c3c3c" stroke="#3c3c3c" stroke-width="0.22" textLength="24.3" lengthAdjust="spacingAndGlyphs">43.00</text>
<text x="24.1" y="465.1" font-family="'Liberation Sans', sans-serif" font-size="10.5" fill="#3c3c3c" stroke="#3c3c3c" stroke-width="0.22" textLength="24.3" lengthAdjust="spacingAndGlyphs">44.00</text>
<text x="22.8" y="435.9" font-family="'Liberation Sans', sans-serif" font-size="10.5" fill="#3c3c3c" stroke="#3c3c3c" stroke-width="0.22" textLength="24.3" lengthAdjust="spacingAndGlyphs">45.00</text>
<text x="21.6" y="406.8" font-family="'Liberation Sans', sans-serif" font-size="10.5" fill="#3c3c3c" stroke="#3c3c3c" stroke-width="0.22" textLength="24.3" lengthAdjust="spacingAndGlyphs">46.00</text>
<text x="20.3" y="377.6" font-family="'Liberation Sans', sans-serif" font-size="10.5" fill="#3c3c3c" stroke="#3c3c3c" stroke-width="0.22" textLength="24.3" lengthAdjust="spacingAndGlyphs">47.00</text>
<text x="34.2" y="584.2" font-family="'Liberation Sans', sans-serif" font-size="10.5" fill="#3c3c3c" stroke="#3c3c3c" stroke-width="0.22" textLength="18.3" lengthAdjust="spacingAndGlyphs">0.25</text>
<text x="66.3" y="600.7" font-family="'Liberation Sans', sans-serif" font-size="10.5" fill="#3c3c3c" stroke="#3c3c3c" stroke-width="0.22" textLength="18.3" lengthAdjust="spacingAndGlyphs">0.23</text>
<text x="98.4" y="617.3" font-family="'Liberation Sans', sans-serif" font-size="10.5" fill="#3c3c3c" stroke="#3c3c3c" stroke-width="0.22" textLength="18.3" lengthAdjust="spacingAndGlyphs">0.20</text>
<text x="130.5" y="633.9" font-family="'Liberation Sans', sans-serif" font-size="10.5" fill="#3c3c3c" stroke="#3c3c3c" stroke-width="0.22" textLength="18.3" lengthAdjust="spacingAndGlyphs">0.18</text>
<text x="162.7" y="650.5" font-family="'Liberation Sans', sans-serif" font-size="10.5" fill="#3c3c3c" stroke="#3c3c3c" stroke-width="0.22" textLength="18.3" lengthAdjust="spacingAndGlyphs">0.15</text>
<text x="193.5" y="650.5" font-family="'Liberation Sans', sans-serif" font-size="10.5" fill="#3c3c3c" stroke="#3c3c3c" stroke-width="0.22" textLength="4.8" lengthAdjust="spacingAndGlyphs">8</text>
<text x="225.4" y="633.9" font-family="'Liberation Sans', sans-serif" font-size="10.5" fill="#3c3c3c" stroke="#3c3c3c" stroke-width="0.22" textLength="9.5" lengthAdjust="spacingAndGlyphs">10</text>
<text x="257.4" y="617.3" font-family="'Liberation Sans', sans-serif" font-size="10.5" fill="#3c3c3c" stroke="#3c3c3c" stroke-width="0.22" textLength="9.5" lengthAdjust="spacingAndGlyphs">12</text>
<text x="289.4" y="600.7" font-family="'Liberation Sans', sans-serif" font-size="10.5" fill="#3c3c3c" stroke="#3c3c3c" stroke-width="0.22" textLength="9.5" lengthAdjust="spacingAndGlyphs">15</text>
<text x="321.4" y="584.1" font-family="'Liberation Sans', sans-serif" font-size="10.5" fill="#3c3c3c" stroke="#3c3c3c" stroke-width="0.22" textLength="9.5" lengthAdjust="spacingAndGlyphs">17</text>
<text x="35.6" y="635.8" font-family="'Liberation Sans', sans-serif" font-size="10.4" fill="#3c3c3c" stroke="#3c3c3c" stroke-width="0.22" textLength="75.8" lengthAdjust="spacingAndGlyphs">C: MgSO4 (gm/l)</text>
<text x="260" y="635.2" font-family="'Liberation Sans', sans-serif" font-size="10.4" fill="#3c3c3c" stroke="#3c3c3c" stroke-width="0.22" textLength="82.1" lengthAdjust="spacingAndGlyphs">B: Nitrogen (gm/l)</text>
<text x="12.9" y="522.5" font-family="'Liberation Sans', sans-serif" font-size="10.4" fill="#3c3c3c" stroke="#3c3c3c" stroke-width="0.22" textLength="84.5" lengthAdjust="spacingAndGlyphs" transform="rotate(-90 12.9 522.5)">Phosphate (mg/l)</text>
<text x="158.4" y="682.7" font-family="'Liberation Serif', serif" font-size="21" fill="#111" textLength="23.4" lengthAdjust="spacingAndGlyphs">(C)</text>
<rect x="463.4" y="343.6" width="286" height="277.4" fill="none" stroke="#4a4a4a" stroke-width="1.5"/>
<line x1="456.3" y1="606.8" x2="463.4" y2="606.8" stroke="#4a4a4a" stroke-width="1.2"/>
<line x1="477.7" y1="621" x2="477.7" y2="627.7" stroke="#4a4a4a" stroke-width="1.2"/>
<text x="438.8" y="609.4" font-family="'Liberation Sans', sans-serif" font-size="7.2" fill="#444" stroke="#444" stroke-width="0.22" textLength="15.4" lengthAdjust="spacingAndGlyphs">42.00</text>
<text x="470" y="636.3" font-family="'Liberation Sans', sans-serif" font-size="7.2" fill="#444" stroke="#444" stroke-width="0.22" textLength="15.4" lengthAdjust="spacingAndGlyphs">42.00</text>
<line x1="456.3" y1="556.9" x2="463.4" y2="556.9" stroke="#4a4a4a" stroke-width="1.2"/>
<line x1="529.1" y1="621" x2="529.1" y2="627.7" stroke="#4a4a4a" stroke-width="1.2"/>
<text x="438.8" y="559.5" font-family="'Liberation Sans', sans-serif" font-size="7.2" fill="#444" stroke="#444" stroke-width="0.22" textLength="15.4" lengthAdjust="spacingAndGlyphs">43.00</text>
<text x="521.4" y="636.3" font-family="'Liberation Sans', sans-serif" font-size="7.2" fill="#444" stroke="#444" stroke-width="0.22" textLength="15.4" lengthAdjust="spacingAndGlyphs">43.00</text>
<line x1="456.3" y1="507" x2="463.4" y2="507" stroke="#4a4a4a" stroke-width="1.2"/>
<line x1="580.5" y1="621" x2="580.5" y2="627.7" stroke="#4a4a4a" stroke-width="1.2"/>
<text x="438.8" y="509.6" font-family="'Liberation Sans', sans-serif" font-size="7.2" fill="#444" stroke="#444" stroke-width="0.22" textLength="15.4" lengthAdjust="spacingAndGlyphs">44.00</text>
<text x="572.8" y="636.3" font-family="'Liberation Sans', sans-serif" font-size="7.2" fill="#444" stroke="#444" stroke-width="0.22" textLength="15.4" lengthAdjust="spacingAndGlyphs">44.00</text>
<line x1="456.3" y1="457.2" x2="463.4" y2="457.2" stroke="#4a4a4a" stroke-width="1.2"/>
<line x1="631.9" y1="621" x2="631.9" y2="627.7" stroke="#4a4a4a" stroke-width="1.2"/>
<text x="438.8" y="459.8" font-family="'Liberation Sans', sans-serif" font-size="7.2" fill="#444" stroke="#444" stroke-width="0.22" textLength="15.4" lengthAdjust="spacingAndGlyphs">45.00</text>
<text x="624.2" y="636.3" font-family="'Liberation Sans', sans-serif" font-size="7.2" fill="#444" stroke="#444" stroke-width="0.22" textLength="15.4" lengthAdjust="spacingAndGlyphs">45.00</text>
<line x1="456.3" y1="407.3" x2="463.4" y2="407.3" stroke="#4a4a4a" stroke-width="1.2"/>
<line x1="683.3" y1="621" x2="683.3" y2="627.7" stroke="#4a4a4a" stroke-width="1.2"/>
<text x="438.8" y="409.9" font-family="'Liberation Sans', sans-serif" font-size="7.2" fill="#444" stroke="#444" stroke-width="0.22" textLength="15.4" lengthAdjust="spacingAndGlyphs">46.00</text>
<text x="675.6" y="636.3" font-family="'Liberation Sans', sans-serif" font-size="7.2" fill="#444" stroke="#444" stroke-width="0.22" textLength="15.4" lengthAdjust="spacingAndGlyphs">46.00</text>
<line x1="456.3" y1="357.4" x2="463.4" y2="357.4" stroke="#4a4a4a" stroke-width="1.2"/>
<line x1="734.7" y1="621" x2="734.7" y2="627.7" stroke="#4a4a4a" stroke-width="1.2"/>
<text x="438.8" y="360" font-family="'Liberation Sans', sans-serif" font-size="7.2" fill="#444" stroke="#444" stroke-width="0.22" textLength="15.4" lengthAdjust="spacingAndGlyphs">47.00</text>
<text x="727" y="636.3" font-family="'Liberation Sans', sans-serif" font-size="7.2" fill="#444" stroke="#444" stroke-width="0.22" textLength="15.4" lengthAdjust="spacingAndGlyphs">47.00</text>
<line x1="477.7" y1="606.8" x2="734.7" y2="357.4" stroke="#505050" stroke-width="1.1"/>
<rect x="479.3" y="590.7" width="5.4" height="5.4" fill="#0000e8" stroke="#333" stroke-width="1"/>
<rect x="541.4" y="534.8" width="5.4" height="5.4" fill="#22e6e0" stroke="#333" stroke-width="1"/>
<rect x="565" y="432.9" width="5.4" height="5.4" fill="#18de78" stroke="#333" stroke-width="1"/>
<rect x="573.3" y="520.1" width="5.4" height="5.4" fill="#18dc48" stroke="#333" stroke-width="1"/>
<rect x="603.5" y="469.1" width="5.4" height="5.4" fill="#3cee1e" stroke="#333" stroke-width="1"/>
<rect x="620.1" y="441.6" width="5.4" height="5.4" fill="#9cee28" stroke="#333" stroke-width="1"/>
<rect x="623.1" y="475.8" width="5.4" height="5.4" fill="#aee628" stroke="#333" stroke-width="1"/>
<rect x="628.8" y="432.9" width="5.4" height="5.4" fill="#c8ee28" stroke="#333" stroke-width="1"/>
<rect x="639.5" y="453.9" width="5.4" height="5.4" fill="#eeee28" stroke="#333" stroke-width="1"/>
<rect x="650" y="431.9" width="5.4" height="5.4" fill="#f0c818" stroke="#333" stroke-width="1"/>
<rect x="654.9" y="433.1" width="5.4" height="5.4" fill="#f0b418" stroke="#333" stroke-width="1"/>
<rect x="660.7" y="444.2" width="5.4" height="5.4" fill="#f0a018" stroke="#333" stroke-width="1"/>
<rect x="666.1" y="432.8" width="5.4" height="5.4" fill="#f08c18" stroke="#333" stroke-width="1"/>
<rect x="673" y="432.8" width="5.4" height="5.4" fill="#f07818" stroke="#333" stroke-width="1"/>
<rect x="678.1" y="414.4" width="5.4" height="5.4" fill="#e05818" stroke="#333" stroke-width="1"/>
<rect x="677.3" y="413.4" width="5.4" height="5.4" fill="#f06418" stroke="#333" stroke-width="1"/>
<rect x="678.3" y="432" width="5.4" height="5.4" fill="#f06418" stroke="#333" stroke-width="1"/>
<rect x="687.6" y="380" width="5.4" height="5.4" fill="#ee3418" stroke="#333" stroke-width="1"/>
<rect x="691" y="398" width="5.4" height="5.4" fill="#ee2418" stroke="#333" stroke-width="1"/>
<rect x="696.3" y="432.8" width="5.4" height="5.4" fill="#e01410" stroke="#333" stroke-width="1"/>
<text x="563.6" y="339" font-family="'Liberation Sans', sans-serif" font-size="10.3" fill="#333" stroke="#333" stroke-width="0.22" textLength="83.7" lengthAdjust="spacingAndGlyphs">Predicted vs. Actual</text>
<text x="418.4" y="498" font-family="'Liberation Sans', sans-serif" font-size="9.2" fill="#333" stroke="#333" stroke-width="0.22" textLength="34" lengthAdjust="spacingAndGlyphs" transform="rotate(-90 418.4 498)">Predicted</text>
<text x="594.3" y="657.3" font-family="'Liberation Sans', sans-serif" font-size="8.9" fill="#333" stroke="#333" stroke-width="0.22" textLength="22.9" lengthAdjust="spacingAndGlyphs">Actual</text>
<text x="598.6" y="685.5" font-family="'Liberation Serif', serif" font-size="21" fill="#111" textLength="25" lengthAdjust="spacingAndGlyphs">(D)</text>
</svg></body></html>
